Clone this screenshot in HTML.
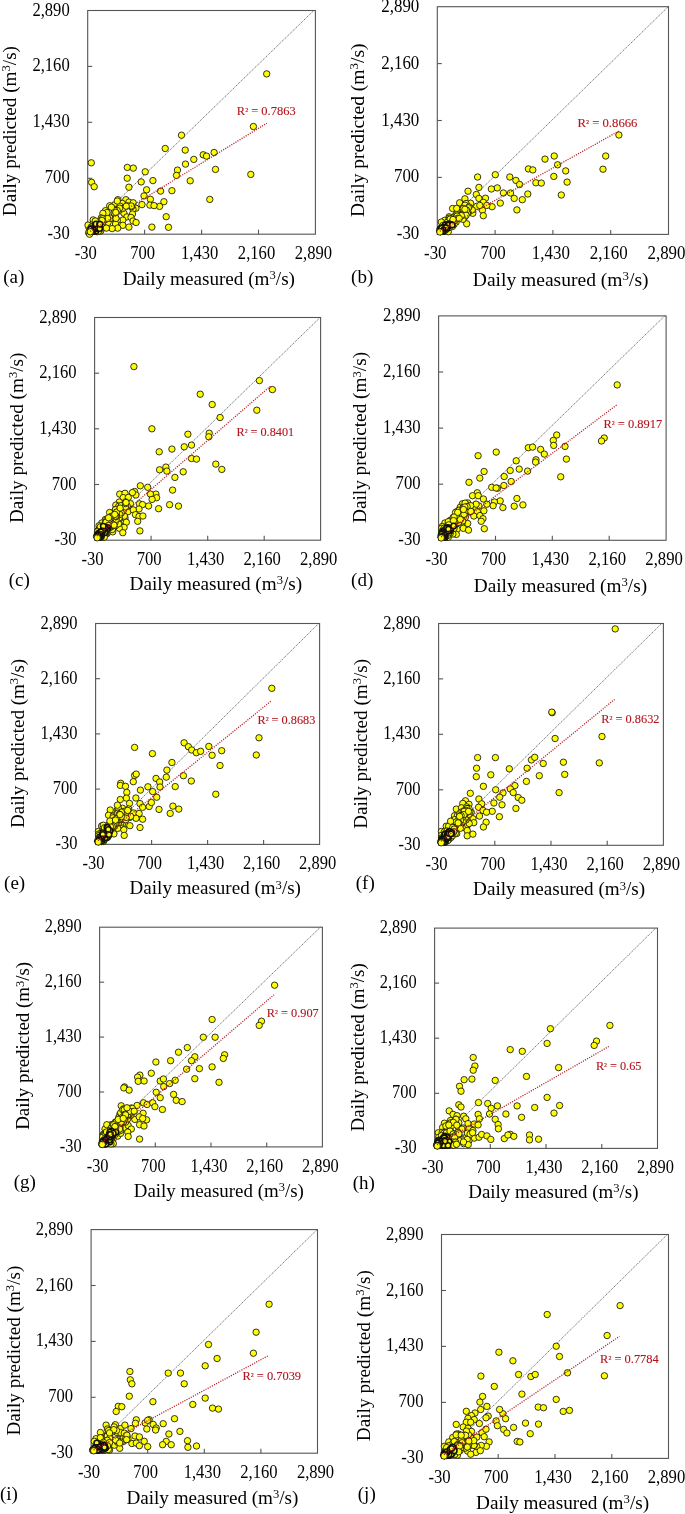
<!DOCTYPE html><html><head><meta charset="utf-8"><style>html,body{margin:0;padding:0;background:#fff;width:685px;height:1514px;overflow:hidden}svg{display:block;will-change:transform}text{font-family:"Liberation Serif",serif;fill:#000}</style></head><body>
<svg width="685" height="1514" viewBox="0 0 685 1514">
<rect x="87.7" y="10.5" width="227.7" height="223.7" fill="none" stroke="#555" stroke-width="1.1"/>
<line x1="144.6" y1="234.2" x2="144.6" y2="229.7" stroke="#555" stroke-width="1.1"/>
<line x1="87.7" y1="178.3" x2="92.2" y2="178.3" stroke="#555" stroke-width="1.1"/>
<line x1="201.6" y1="234.2" x2="201.6" y2="229.7" stroke="#555" stroke-width="1.1"/>
<line x1="87.7" y1="122.3" x2="92.2" y2="122.3" stroke="#555" stroke-width="1.1"/>
<line x1="258.5" y1="234.2" x2="258.5" y2="229.7" stroke="#555" stroke-width="1.1"/>
<line x1="87.7" y1="66.4" x2="92.2" y2="66.4" stroke="#555" stroke-width="1.1"/>
<g fill="#ffff00" stroke="#111" stroke-width="0.85">
<line x1="87.7" y1="229.9" x2="313.8" y2="10.5" stroke="#555" stroke-width="0.85" stroke-dasharray="1.3 0.9" />
<circle cx="266.7" cy="73.9" r="3.2"/>
<circle cx="253.4" cy="126.5" r="3.2"/>
<circle cx="181.5" cy="135.2" r="3.2"/>
<circle cx="165.2" cy="148.5" r="3.2"/>
<circle cx="185.2" cy="150.1" r="3.2"/>
<circle cx="203.2" cy="154.8" r="3.2"/>
<circle cx="206.5" cy="156.1" r="3.2"/>
<circle cx="214.1" cy="152.5" r="3.2"/>
<circle cx="193.8" cy="159.4" r="3.2"/>
<circle cx="185.5" cy="164.1" r="3.2"/>
<circle cx="177.5" cy="170.1" r="3.2"/>
<circle cx="176.5" cy="175.4" r="3.2"/>
<circle cx="215.5" cy="169.4" r="3.2"/>
<circle cx="250.8" cy="174.4" r="3.2"/>
<circle cx="190.2" cy="180.8" r="3.2"/>
<circle cx="209.8" cy="199.4" r="3.2"/>
<circle cx="91.3" cy="162.8" r="3.2"/>
<circle cx="127.3" cy="167.4" r="3.2"/>
<circle cx="133.3" cy="168.1" r="3.2"/>
<circle cx="145.2" cy="171.8" r="3.2"/>
<circle cx="160.6" cy="191.1" r="3.2"/>
<circle cx="171.9" cy="190.7" r="3.2"/>
<circle cx="163.9" cy="201.7" r="3.2"/>
<circle cx="159.6" cy="206.4" r="3.2"/>
<circle cx="166.2" cy="216.7" r="3.2"/>
<circle cx="168.5" cy="227.3" r="3.2"/>
<circle cx="91.6" cy="182.3" r="3.2"/>
<circle cx="94.2" cy="186.7" r="3.2"/>
<circle cx="127.2" cy="178.2" r="3.2"/>
<circle cx="141.2" cy="181.9" r="3.2"/>
<circle cx="152.9" cy="180.6" r="3.2"/>
<circle cx="128.9" cy="187.2" r="3.2"/>
<circle cx="146.6" cy="189.8" r="3.2"/>
<circle cx="144.0" cy="195.9" r="3.2"/>
<circle cx="150.4" cy="199.3" r="3.2"/>
<circle cx="142.0" cy="204.6" r="3.2"/>
<circle cx="149.9" cy="205.1" r="3.2"/>
<circle cx="154.0" cy="205.6" r="3.2"/>
<circle cx="151.9" cy="227.1" r="3.2"/>
<circle cx="117.9" cy="199.7" r="3.2"/>
<circle cx="125.9" cy="199.7" r="3.2"/>
<circle cx="128.9" cy="202.1" r="3.2"/>
<circle cx="133.2" cy="202.8" r="3.2"/>
<circle cx="122.3" cy="203.4" r="3.2"/>
<circle cx="114.6" cy="204.8" r="3.2"/>
<circle cx="109.7" cy="205.8" r="3.2"/>
<circle cx="119.9" cy="206.1" r="3.2"/>
<circle cx="135.9" cy="208.2" r="3.2"/>
<circle cx="133.0" cy="209.2" r="3.2"/>
<circle cx="114.6" cy="209.2" r="3.2"/>
<circle cx="120.2" cy="210.7" r="3.2"/>
<circle cx="124.0" cy="213.3" r="3.2"/>
<circle cx="132.5" cy="214.0" r="3.2"/>
<circle cx="105.4" cy="210.7" r="3.2"/>
<circle cx="106.9" cy="212.6" r="3.2"/>
<circle cx="102.9" cy="213.3" r="3.2"/>
<circle cx="126.9" cy="216.9" r="3.2"/>
<circle cx="131.0" cy="217.4" r="3.2"/>
<circle cx="133.0" cy="221.0" r="3.2"/>
<circle cx="136.1" cy="222.5" r="3.2"/>
<circle cx="122.8" cy="220.1" r="3.2"/>
<circle cx="117.2" cy="220.5" r="3.2"/>
<circle cx="112.6" cy="218.7" r="3.2"/>
<circle cx="106.4" cy="218.9" r="3.2"/>
<circle cx="101.3" cy="217.9" r="3.2"/>
<circle cx="93.2" cy="219.9" r="3.2"/>
<circle cx="95.7" cy="224.0" r="3.2"/>
<circle cx="99.3" cy="223.0" r="3.2"/>
<circle cx="103.9" cy="223.5" r="3.2"/>
<circle cx="108.0" cy="222.5" r="3.2"/>
<circle cx="115.6" cy="224.0" r="3.2"/>
<circle cx="122.8" cy="225.3" r="3.2"/>
<circle cx="128.9" cy="227.1" r="3.2"/>
<circle cx="117.7" cy="228.1" r="3.2"/>
<circle cx="112.1" cy="228.6" r="3.2"/>
<circle cx="106.4" cy="228.1" r="3.2"/>
<circle cx="99.3" cy="230.2" r="3.2"/>
<circle cx="96.2" cy="228.1" r="3.2"/>
<circle cx="92.1" cy="227.1" r="3.2"/>
<circle cx="91.1" cy="225.1" r="3.2"/>
<circle cx="89.1" cy="228.1" r="3.2"/>
<circle cx="90.1" cy="231.2" r="3.2"/>
<circle cx="88.6" cy="232.7" r="3.2"/>
<circle cx="89.6" cy="234.2" r="3.2"/>
<circle cx="88.0" cy="225.1" r="3.2"/>
<circle cx="97.2" cy="231.7" r="3.2"/>
<circle cx="91.6" cy="231.2" r="3.2"/>
<circle cx="113.3" cy="217.1" r="3.2"/>
<circle cx="95.0" cy="226.9" r="3.2"/>
<circle cx="114.1" cy="212.8" r="3.2"/>
<circle cx="103.1" cy="221.5" r="3.2"/>
<circle cx="127.5" cy="205.8" r="3.2"/>
<circle cx="122.6" cy="208.6" r="3.2"/>
<circle cx="93.3" cy="231.2" r="3.2"/>
<circle cx="95.0" cy="231.2" r="3.2"/>
<circle cx="112.1" cy="218.6" r="3.2"/>
<circle cx="100.7" cy="231.0" r="3.2"/>
<circle cx="131.5" cy="206.7" r="3.2"/>
<circle cx="119.6" cy="208.2" r="3.2"/>
<circle cx="117.2" cy="210.4" r="3.2"/>
<circle cx="110.7" cy="218.2" r="3.2"/>
<circle cx="96.9" cy="228.7" r="3.2"/>
<circle cx="114.7" cy="210.6" r="3.2"/>
<circle cx="131.3" cy="206.0" r="3.2"/>
<circle cx="99.2" cy="230.6" r="3.2"/>
<circle cx="105.9" cy="219.1" r="3.2"/>
<circle cx="97.2" cy="227.5" r="3.2"/>
<circle cx="115.4" cy="217.4" r="3.2"/>
<circle cx="117.3" cy="201.0" r="3.2"/>
<circle cx="90.7" cy="230.9" r="3.2"/>
<circle cx="103.4" cy="219.4" r="3.2"/>
<circle cx="98.5" cy="231.2" r="3.2"/>
<circle cx="92.5" cy="231.2" r="3.2"/>
<circle cx="115.8" cy="212.4" r="3.2"/>
<circle cx="105.1" cy="219.3" r="3.2"/>
<circle cx="96.5" cy="222.3" r="3.2"/>
<circle cx="91.0" cy="231.2" r="3.2"/>
<circle cx="111.4" cy="207.1" r="3.2"/>
<circle cx="116.0" cy="218.4" r="3.2"/>
<circle cx="126.2" cy="206.2" r="3.2"/>
<circle cx="99.4" cy="226.9" r="3.2"/>
<circle cx="94.1" cy="231.2" r="3.2"/>
<circle cx="90.7" cy="230.8" r="3.2"/>
<circle cx="94.8" cy="227.2" r="3.2"/>
<circle cx="90.7" cy="231.0" r="3.2"/>
<circle cx="107.6" cy="218.5" r="3.2"/>
<circle cx="90.7" cy="231.2" r="3.2"/>
<circle cx="93.2" cy="227.9" r="3.2"/>
<circle cx="90.7" cy="231.2" r="3.2"/>
<circle cx="91.5" cy="231.2" r="3.2"/>
<circle cx="95.5" cy="224.6" r="3.2"/>
<circle cx="90.7" cy="230.2" r="3.2"/>
<circle cx="92.4" cy="227.2" r="3.2"/>
<circle cx="90.7" cy="230.6" r="3.2"/>
<circle cx="93.2" cy="231.2" r="3.2"/>
<circle cx="91.3" cy="227.0" r="3.2"/>
<circle cx="96.6" cy="225.9" r="3.2"/>
<circle cx="93.6" cy="226.2" r="3.2"/>
<circle cx="99.1" cy="223.9" r="3.2"/>
<circle cx="91.3" cy="231.2" r="3.2"/>
<circle cx="93.3" cy="229.7" r="3.2"/>
<circle cx="90.7" cy="231.2" r="3.2"/>
<circle cx="95.2" cy="227.3" r="3.2"/>
<circle cx="102.4" cy="218.7" r="3.2"/>
<circle cx="96.2" cy="229.8" r="3.2"/>
<circle cx="102.0" cy="220.4" r="3.2"/>
<circle cx="96.0" cy="229.3" r="3.2"/>
<circle cx="93.0" cy="229.3" r="3.2"/>
<circle cx="98.6" cy="223.9" r="3.2"/>
<circle cx="96.2" cy="225.5" r="3.2"/>
<circle cx="90.7" cy="228.6" r="3.2"/>
<circle cx="90.7" cy="231.2" r="3.2"/>
<circle cx="93.9" cy="229.2" r="3.2"/>
<circle cx="95.3" cy="221.0" r="3.2"/>
<circle cx="92.1" cy="231.2" r="3.2"/>
<circle cx="90.7" cy="231.2" r="3.2"/>
<g stroke-width="1.6">
<circle cx="95.0" cy="231.2" r="2.7"/>
<circle cx="95.9" cy="226.0" r="2.7"/>
<circle cx="90.7" cy="231.2" r="2.7"/>
<circle cx="95.9" cy="231.2" r="2.7"/>
<circle cx="90.7" cy="231.2" r="2.7"/>
<circle cx="94.8" cy="228.6" r="2.7"/>
<circle cx="90.7" cy="230.1" r="2.7"/>
<circle cx="90.7" cy="231.2" r="2.7"/>
<circle cx="90.7" cy="230.4" r="2.7"/>
<circle cx="95.7" cy="227.4" r="2.7"/>
<circle cx="90.7" cy="231.2" r="2.7"/>
<circle cx="96.3" cy="228.4" r="2.7"/>
<circle cx="92.9" cy="229.8" r="2.7"/>
<circle cx="97.0" cy="228.1" r="2.7"/>
<circle cx="90.7" cy="231.2" r="2.7"/>
<circle cx="90.7" cy="231.2" r="2.7"/>
<circle cx="94.0" cy="229.4" r="2.7"/>
<circle cx="90.7" cy="230.1" r="2.7"/>
<circle cx="92.5" cy="229.6" r="2.7"/>
<circle cx="95.5" cy="228.2" r="2.7"/>
<circle cx="90.7" cy="231.2" r="2.7"/>
<circle cx="97.8" cy="225.5" r="2.7"/>
<circle cx="95.5" cy="225.3" r="2.7"/>
<circle cx="96.9" cy="227.8" r="2.7"/>
<circle cx="96.0" cy="223.9" r="2.7"/>
<circle cx="92.8" cy="229.8" r="2.7"/>
<circle cx="99.6" cy="224.3" r="2.7"/>
<circle cx="90.7" cy="231.2" r="2.7"/>
<circle cx="92.4" cy="231.2" r="2.7"/>
<circle cx="99.7" cy="228.6" r="2.7"/>
<circle cx="90.7" cy="231.2" r="2.7"/>
<circle cx="100.0" cy="224.2" r="2.7"/>
<circle cx="90.7" cy="229.9" r="2.7"/>
<circle cx="90.7" cy="230.5" r="2.7"/>
<circle cx="90.7" cy="229.1" r="2.7"/>
</g>
<ellipse cx="92.7" cy="230.0" rx="4.6" ry="3.0" transform="rotate(-40 92.7 230.0)" fill="#111" stroke="none"/>
<circle cx="90.3" cy="231.8" r="3.2"/>
</g>
<line x1="90.2" y1="231.5" x2="266.8" y2="123.2" stroke="#b81c24" stroke-width="1.3" stroke-dasharray="1.1 1.3"/>
<text transform="translate(69.7,239.2) scale(1,1.1)" font-size="16.60" text-anchor="end">-30</text>
<text transform="translate(85.7,259.2) scale(1,1.1)" font-size="16.60" text-anchor="middle">-30</text>
<text transform="translate(69.7,183.3) scale(1,1.1)" font-size="16.60" text-anchor="end">700</text>
<text transform="translate(142.6,259.2) scale(1,1.1)" font-size="16.60" text-anchor="middle">700</text>
<text transform="translate(69.7,127.3) scale(1,1.1)" font-size="16.60" text-anchor="end">1,430</text>
<text transform="translate(199.6,259.2) scale(1,1.1)" font-size="16.60" text-anchor="middle">1,430</text>
<text transform="translate(69.7,71.4) scale(1,1.1)" font-size="16.60" text-anchor="end">2,160</text>
<text transform="translate(256.5,259.2) scale(1,1.1)" font-size="16.60" text-anchor="middle">2,160</text>
<text transform="translate(69.7,15.5) scale(1,1.1)" font-size="16.60" text-anchor="end">2,890</text>
<text transform="translate(313.4,259.2) scale(1,1.1)" font-size="16.60" text-anchor="middle">2,890</text>
<text x="122.7" y="284.6" font-size="19.17">Daily measured (m<tspan font-size="12.66" dy="-5.75">3</tspan><tspan dy="5.75">/s)</tspan></text>
<text transform="translate(15.9,216.2) rotate(-90)" font-size="19.17">Daily predicted (m<tspan font-size="12.66" dy="-5.75">3</tspan><tspan dy="5.75">/s)</tspan></text>
<text x="3.2" y="282.8" font-size="19">(a)</text>
<text transform="translate(236.8,114.9) scale(0.932,1)" font-size="13.4" style="fill:#b3141c;stroke:#b3141c;stroke-width:0.12">R<tspan font-size="10.5">²</tspan> = 0.7863</text>
<rect x="437.3" y="6.7" width="231.2" height="227.7" fill="none" stroke="#555" stroke-width="1.1"/>
<line x1="495.1" y1="234.4" x2="495.1" y2="229.9" stroke="#555" stroke-width="1.1"/>
<line x1="437.3" y1="177.4" x2="441.8" y2="177.4" stroke="#555" stroke-width="1.1"/>
<line x1="552.9" y1="234.4" x2="552.9" y2="229.9" stroke="#555" stroke-width="1.1"/>
<line x1="437.3" y1="120.5" x2="441.8" y2="120.5" stroke="#555" stroke-width="1.1"/>
<line x1="610.7" y1="234.4" x2="610.7" y2="229.9" stroke="#555" stroke-width="1.1"/>
<line x1="437.3" y1="63.6" x2="441.8" y2="63.6" stroke="#555" stroke-width="1.1"/>
<g fill="#ffff00" stroke="#111" stroke-width="0.85">
<line x1="437.3" y1="232.0" x2="668.2" y2="6.7" stroke="#555" stroke-width="0.85" stroke-dasharray="1.3 0.9" />
<circle cx="618.9" cy="135.0" r="3.2"/>
<circle cx="605.7" cy="156.0" r="3.2"/>
<circle cx="603.0" cy="169.2" r="3.2"/>
<circle cx="554.2" cy="156.0" r="3.2"/>
<circle cx="545.0" cy="159.1" r="3.2"/>
<circle cx="557.6" cy="164.8" r="3.2"/>
<circle cx="528.4" cy="168.9" r="3.2"/>
<circle cx="532.8" cy="169.9" r="3.2"/>
<circle cx="565.7" cy="170.9" r="3.2"/>
<circle cx="553.8" cy="176.4" r="3.2"/>
<circle cx="567.1" cy="182.1" r="3.2"/>
<circle cx="561.3" cy="195.0" r="3.2"/>
<circle cx="535.9" cy="182.8" r="3.2"/>
<circle cx="541.3" cy="183.1" r="3.2"/>
<circle cx="509.8" cy="177.0" r="3.2"/>
<circle cx="515.9" cy="180.4" r="3.2"/>
<circle cx="519.6" cy="184.5" r="3.2"/>
<circle cx="495.3" cy="174.7" r="3.2"/>
<circle cx="477.6" cy="177.0" r="3.2"/>
<circle cx="497.3" cy="187.9" r="3.2"/>
<circle cx="503.4" cy="193.0" r="3.2"/>
<circle cx="510.5" cy="193.0" r="3.2"/>
<circle cx="514.2" cy="198.4" r="3.2"/>
<circle cx="522.3" cy="199.7" r="3.2"/>
<circle cx="527.8" cy="194.0" r="3.2"/>
<circle cx="516.9" cy="209.9" r="3.2"/>
<circle cx="500.3" cy="203.1" r="3.2"/>
<circle cx="478.9" cy="187.4" r="3.2"/>
<circle cx="468.0" cy="191.2" r="3.2"/>
<circle cx="491.4" cy="189.0" r="3.2"/>
<circle cx="476.3" cy="194.5" r="3.2"/>
<circle cx="478.9" cy="198.4" r="3.2"/>
<circle cx="485.5" cy="198.2" r="3.2"/>
<circle cx="464.9" cy="198.8" r="3.2"/>
<circle cx="459.6" cy="202.8" r="3.2"/>
<circle cx="470.6" cy="203.2" r="3.2"/>
<circle cx="483.3" cy="202.3" r="3.2"/>
<circle cx="452.6" cy="208.5" r="3.2"/>
<circle cx="492.1" cy="206.7" r="3.2"/>
<circle cx="482.4" cy="210.2" r="3.2"/>
<circle cx="483.3" cy="215.7" r="3.2"/>
<circle cx="466.7" cy="223.8" r="3.2"/>
<circle cx="462.3" cy="215.0" r="3.2"/>
<circle cx="457.0" cy="215.0" r="3.2"/>
<circle cx="466.7" cy="211.5" r="3.2"/>
<circle cx="472.8" cy="213.3" r="3.2"/>
<circle cx="462.3" cy="208.9" r="3.2"/>
<circle cx="476.7" cy="206.3" r="3.2"/>
<circle cx="479.8" cy="205.4" r="3.2"/>
<circle cx="486.8" cy="205.4" r="3.2"/>
<circle cx="467.5" cy="206.3" r="3.2"/>
<circle cx="449.1" cy="216.8" r="3.2"/>
<circle cx="455.3" cy="219.4" r="3.2"/>
<circle cx="450.9" cy="221.2" r="3.2"/>
<circle cx="444.8" cy="220.3" r="3.2"/>
<circle cx="441.3" cy="222.0" r="3.2"/>
<circle cx="447.4" cy="224.7" r="3.2"/>
<circle cx="452.6" cy="224.7" r="3.2"/>
<circle cx="442.1" cy="227.3" r="3.2"/>
<circle cx="448.3" cy="231.7" r="3.2"/>
<circle cx="456.1" cy="222.0" r="3.2"/>
<circle cx="460.5" cy="218.5" r="3.2"/>
<circle cx="442.2" cy="228.8" r="3.2"/>
<circle cx="464.0" cy="216.6" r="3.2"/>
<circle cx="461.9" cy="214.1" r="3.2"/>
<circle cx="456.3" cy="214.6" r="3.2"/>
<circle cx="448.7" cy="227.4" r="3.2"/>
<circle cx="454.1" cy="224.4" r="3.2"/>
<circle cx="440.3" cy="231.4" r="3.2"/>
<circle cx="465.0" cy="216.7" r="3.2"/>
<circle cx="448.9" cy="219.7" r="3.2"/>
<circle cx="462.9" cy="219.3" r="3.2"/>
<circle cx="451.4" cy="221.4" r="3.2"/>
<circle cx="472.2" cy="209.9" r="3.2"/>
<circle cx="465.3" cy="209.5" r="3.2"/>
<circle cx="445.2" cy="229.9" r="3.2"/>
<circle cx="440.3" cy="231.4" r="3.2"/>
<circle cx="444.1" cy="229.3" r="3.2"/>
<circle cx="465.2" cy="209.9" r="3.2"/>
<circle cx="445.9" cy="226.5" r="3.2"/>
<circle cx="456.7" cy="208.4" r="3.2"/>
<circle cx="466.0" cy="203.5" r="3.2"/>
<circle cx="465.8" cy="206.8" r="3.2"/>
<circle cx="455.1" cy="215.9" r="3.2"/>
<circle cx="464.3" cy="212.2" r="3.2"/>
<circle cx="452.4" cy="226.5" r="3.2"/>
<circle cx="449.4" cy="218.2" r="3.2"/>
<circle cx="442.9" cy="225.5" r="3.2"/>
<circle cx="444.0" cy="229.3" r="3.2"/>
<circle cx="446.9" cy="222.6" r="3.2"/>
<circle cx="464.5" cy="206.0" r="3.2"/>
<circle cx="443.8" cy="227.8" r="3.2"/>
<circle cx="452.4" cy="220.8" r="3.2"/>
<circle cx="440.3" cy="231.4" r="3.2"/>
<circle cx="440.3" cy="229.2" r="3.2"/>
<circle cx="456.8" cy="214.8" r="3.2"/>
<circle cx="468.2" cy="212.9" r="3.2"/>
<circle cx="450.2" cy="219.1" r="3.2"/>
<circle cx="465.1" cy="205.2" r="3.2"/>
<circle cx="440.3" cy="231.4" r="3.2"/>
<circle cx="452.3" cy="221.5" r="3.2"/>
<circle cx="445.5" cy="230.0" r="3.2"/>
<circle cx="450.2" cy="224.6" r="3.2"/>
<circle cx="444.4" cy="229.0" r="3.2"/>
<circle cx="440.3" cy="231.1" r="3.2"/>
<circle cx="450.3" cy="223.2" r="3.2"/>
<circle cx="462.0" cy="215.0" r="3.2"/>
<circle cx="469.0" cy="206.9" r="3.2"/>
<circle cx="463.3" cy="208.5" r="3.2"/>
<circle cx="443.2" cy="230.6" r="3.2"/>
<circle cx="468.3" cy="207.9" r="3.2"/>
<circle cx="443.3" cy="230.6" r="3.2"/>
<circle cx="440.3" cy="231.4" r="3.2"/>
<circle cx="440.3" cy="231.1" r="3.2"/>
<circle cx="442.7" cy="228.1" r="3.2"/>
<circle cx="440.3" cy="230.7" r="3.2"/>
<circle cx="440.3" cy="231.4" r="3.2"/>
<circle cx="455.9" cy="218.2" r="3.2"/>
<circle cx="455.5" cy="219.2" r="3.2"/>
<circle cx="440.3" cy="231.4" r="3.2"/>
<circle cx="467.4" cy="213.1" r="3.2"/>
<circle cx="466.6" cy="210.1" r="3.2"/>
<circle cx="440.3" cy="229.1" r="3.2"/>
<circle cx="440.3" cy="228.6" r="3.2"/>
<circle cx="466.1" cy="215.2" r="3.2"/>
<circle cx="440.3" cy="231.4" r="3.2"/>
<circle cx="461.4" cy="215.6" r="3.2"/>
<circle cx="447.0" cy="227.1" r="3.2"/>
<circle cx="440.8" cy="231.4" r="3.2"/>
<circle cx="454.4" cy="220.7" r="3.2"/>
<circle cx="441.6" cy="231.4" r="3.2"/>
<circle cx="444.0" cy="231.4" r="3.2"/>
<circle cx="457.1" cy="216.1" r="3.2"/>
<circle cx="440.3" cy="231.4" r="3.2"/>
<circle cx="446.7" cy="225.7" r="3.2"/>
<circle cx="457.8" cy="218.2" r="3.2"/>
<circle cx="459.3" cy="218.5" r="3.2"/>
<circle cx="440.5" cy="230.8" r="3.2"/>
<circle cx="449.3" cy="227.6" r="3.2"/>
<circle cx="464.9" cy="209.3" r="3.2"/>
<circle cx="453.0" cy="219.5" r="3.2"/>
<circle cx="445.0" cy="230.4" r="3.2"/>
<g stroke-width="1.6">
<circle cx="440.3" cy="231.4" r="2.7"/>
<circle cx="440.5" cy="229.1" r="2.7"/>
<circle cx="442.4" cy="228.2" r="2.7"/>
<circle cx="447.0" cy="224.8" r="2.7"/>
<circle cx="441.7" cy="229.1" r="2.7"/>
<circle cx="440.3" cy="231.0" r="2.7"/>
<circle cx="440.7" cy="231.4" r="2.7"/>
<circle cx="440.3" cy="229.9" r="2.7"/>
<circle cx="440.3" cy="231.4" r="2.7"/>
<circle cx="442.9" cy="229.1" r="2.7"/>
<circle cx="446.5" cy="224.4" r="2.7"/>
<circle cx="442.2" cy="231.4" r="2.7"/>
<circle cx="445.5" cy="227.3" r="2.7"/>
<circle cx="440.3" cy="231.4" r="2.7"/>
<circle cx="442.0" cy="230.3" r="2.7"/>
<circle cx="443.7" cy="227.3" r="2.7"/>
<circle cx="442.7" cy="231.4" r="2.7"/>
<circle cx="440.3" cy="229.9" r="2.7"/>
<circle cx="440.3" cy="230.7" r="2.7"/>
<circle cx="440.9" cy="228.6" r="2.7"/>
<circle cx="444.4" cy="229.4" r="2.7"/>
<circle cx="445.2" cy="225.0" r="2.7"/>
<circle cx="451.4" cy="224.7" r="2.7"/>
<circle cx="443.6" cy="229.7" r="2.7"/>
<circle cx="440.3" cy="230.4" r="2.7"/>
<circle cx="441.5" cy="229.4" r="2.7"/>
<circle cx="449.8" cy="224.2" r="2.7"/>
<circle cx="448.0" cy="226.8" r="2.7"/>
<circle cx="447.7" cy="225.2" r="2.7"/>
<circle cx="441.8" cy="231.4" r="2.7"/>
<circle cx="448.5" cy="225.1" r="2.7"/>
<circle cx="447.0" cy="228.2" r="2.7"/>
<circle cx="440.4" cy="231.4" r="2.7"/>
<circle cx="442.3" cy="231.4" r="2.7"/>
<circle cx="443.2" cy="227.6" r="2.7"/>
<circle cx="452.3" cy="224.9" r="2.7"/>
<circle cx="441.6" cy="228.1" r="2.7"/>
<circle cx="442.2" cy="231.4" r="2.7"/>
<circle cx="443.4" cy="230.5" r="2.7"/>
<circle cx="445.8" cy="227.6" r="2.7"/>
</g>
<ellipse cx="442.3" cy="230.2" rx="4.6" ry="3.0" transform="rotate(-40 442.3 230.2)" fill="#111" stroke="none"/>
<circle cx="439.9" cy="232.0" r="3.2"/>
</g>
<line x1="439.8" y1="231.3" x2="619.0" y2="131.0" stroke="#b81c24" stroke-width="1.3" stroke-dasharray="1.1 1.3"/>
<text transform="translate(419.3,239.4) scale(1,1.1)" font-size="16.93" text-anchor="end">-30</text>
<text transform="translate(435.3,259.4) scale(1,1.1)" font-size="16.93" text-anchor="middle">-30</text>
<text transform="translate(419.3,182.4) scale(1,1.1)" font-size="16.93" text-anchor="end">700</text>
<text transform="translate(493.1,259.4) scale(1,1.1)" font-size="16.93" text-anchor="middle">700</text>
<text transform="translate(419.3,125.5) scale(1,1.1)" font-size="16.93" text-anchor="end">1,430</text>
<text transform="translate(550.9,259.4) scale(1,1.1)" font-size="16.93" text-anchor="middle">1,430</text>
<text transform="translate(419.3,68.6) scale(1,1.1)" font-size="16.93" text-anchor="end">2,160</text>
<text transform="translate(608.7,259.4) scale(1,1.1)" font-size="16.93" text-anchor="middle">2,160</text>
<text transform="translate(419.3,11.7) scale(1,1.1)" font-size="16.93" text-anchor="end">2,890</text>
<text transform="translate(666.5,259.4) scale(1,1.1)" font-size="16.93" text-anchor="middle">2,890</text>
<text x="472.8" y="286.1" font-size="19.55">Daily measured (m<tspan font-size="12.90" dy="-5.87">3</tspan><tspan dy="5.87">/s)</tspan></text>
<text transform="translate(364.0,217.0) rotate(-90)" font-size="19.55">Daily predicted (m<tspan font-size="12.90" dy="-5.87">3</tspan><tspan dy="5.87">/s)</tspan></text>
<text x="351.1" y="282.6" font-size="19">(b)</text>
<text transform="translate(577.5,126.6) scale(0.95,1)" font-size="13.4" style="fill:#b3141c;stroke:#b3141c;stroke-width:0.12">R<tspan font-size="10.5">²</tspan> = 0.8666</text>
<rect x="94.6" y="317.5" width="226.0" height="222.7" fill="none" stroke="#555" stroke-width="1.1"/>
<line x1="151.1" y1="540.2" x2="151.1" y2="535.7" stroke="#555" stroke-width="1.1"/>
<line x1="94.6" y1="484.5" x2="99.1" y2="484.5" stroke="#555" stroke-width="1.1"/>
<line x1="207.7" y1="540.2" x2="207.7" y2="535.7" stroke="#555" stroke-width="1.1"/>
<line x1="94.6" y1="428.8" x2="99.1" y2="428.8" stroke="#555" stroke-width="1.1"/>
<line x1="264.2" y1="540.2" x2="264.2" y2="535.7" stroke="#555" stroke-width="1.1"/>
<line x1="94.6" y1="373.2" x2="99.1" y2="373.2" stroke="#555" stroke-width="1.1"/>
<g fill="#ffff00" stroke="#111" stroke-width="0.85">
<line x1="94.6" y1="537.1" x2="320.1" y2="317.5" stroke="#555" stroke-width="0.85" stroke-dasharray="1.3 0.9" />
<circle cx="133.9" cy="366.6" r="3.2"/>
<circle cx="259.4" cy="380.6" r="3.2"/>
<circle cx="272.4" cy="389.6" r="3.2"/>
<circle cx="200.2" cy="394.2" r="3.2"/>
<circle cx="212.2" cy="404.5" r="3.2"/>
<circle cx="256.8" cy="410.2" r="3.2"/>
<circle cx="220.1" cy="417.5" r="3.2"/>
<circle cx="151.9" cy="428.8" r="3.2"/>
<circle cx="187.9" cy="434.2" r="3.2"/>
<circle cx="209.2" cy="433.2" r="3.2"/>
<circle cx="208.8" cy="436.8" r="3.2"/>
<circle cx="184.2" cy="446.8" r="3.2"/>
<circle cx="191.5" cy="445.1" r="3.2"/>
<circle cx="171.9" cy="449.1" r="3.2"/>
<circle cx="159.2" cy="451.8" r="3.2"/>
<circle cx="191.5" cy="458.5" r="3.2"/>
<circle cx="196.5" cy="459.1" r="3.2"/>
<circle cx="215.8" cy="464.1" r="3.2"/>
<circle cx="221.8" cy="469.4" r="3.2"/>
<circle cx="165.9" cy="467.1" r="3.2"/>
<circle cx="166.9" cy="471.1" r="3.2"/>
<circle cx="159.6" cy="469.8" r="3.2"/>
<circle cx="183.2" cy="471.8" r="3.2"/>
<circle cx="174.9" cy="477.4" r="3.2"/>
<circle cx="172.6" cy="490.1" r="3.2"/>
<circle cx="155.9" cy="494.1" r="3.2"/>
<circle cx="156.6" cy="497.7" r="3.2"/>
<circle cx="169.6" cy="504.7" r="3.2"/>
<circle cx="178.5" cy="506.1" r="3.2"/>
<circle cx="158.6" cy="508.7" r="3.2"/>
<circle cx="140.3" cy="485.8" r="3.2"/>
<circle cx="147.7" cy="487.3" r="3.2"/>
<circle cx="134.6" cy="491.5" r="3.2"/>
<circle cx="135.9" cy="495.0" r="3.2"/>
<circle cx="119.7" cy="494.1" r="3.2"/>
<circle cx="125.0" cy="493.3" r="3.2"/>
<circle cx="123.2" cy="497.6" r="3.2"/>
<circle cx="150.4" cy="494.1" r="3.2"/>
<circle cx="152.1" cy="499.4" r="3.2"/>
<circle cx="139.4" cy="503.8" r="3.2"/>
<circle cx="142.5" cy="504.6" r="3.2"/>
<circle cx="148.6" cy="506.0" r="3.2"/>
<circle cx="139.0" cy="509.0" r="3.2"/>
<circle cx="119.3" cy="502.0" r="3.2"/>
<circle cx="115.8" cy="505.1" r="3.2"/>
<circle cx="126.7" cy="504.6" r="3.2"/>
<circle cx="129.8" cy="505.5" r="3.2"/>
<circle cx="115.3" cy="509.9" r="3.2"/>
<circle cx="121.9" cy="510.3" r="3.2"/>
<circle cx="128.0" cy="511.7" r="3.2"/>
<circle cx="133.3" cy="509.9" r="3.2"/>
<circle cx="109.6" cy="512.5" r="3.2"/>
<circle cx="111.0" cy="516.5" r="3.2"/>
<circle cx="121.0" cy="515.2" r="3.2"/>
<circle cx="125.0" cy="517.8" r="3.2"/>
<circle cx="135.5" cy="514.7" r="3.2"/>
<circle cx="139.0" cy="516.5" r="3.2"/>
<circle cx="142.9" cy="516.0" r="3.2"/>
<circle cx="137.7" cy="521.3" r="3.2"/>
<circle cx="105.3" cy="519.5" r="3.2"/>
<circle cx="108.3" cy="522.2" r="3.2"/>
<circle cx="114.0" cy="520.4" r="3.2"/>
<circle cx="119.3" cy="523.9" r="3.2"/>
<circle cx="126.3" cy="522.2" r="3.2"/>
<circle cx="124.1" cy="527.4" r="3.2"/>
<circle cx="119.3" cy="528.3" r="3.2"/>
<circle cx="112.7" cy="531.8" r="3.2"/>
<circle cx="122.8" cy="532.7" r="3.2"/>
<circle cx="101.8" cy="523.0" r="3.2"/>
<circle cx="99.1" cy="525.7" r="3.2"/>
<circle cx="104.4" cy="527.4" r="3.2"/>
<circle cx="98.3" cy="530.1" r="3.2"/>
<circle cx="103.5" cy="531.8" r="3.2"/>
<circle cx="96.5" cy="536.2" r="3.2"/>
<circle cx="107.0" cy="533.6" r="3.2"/>
<circle cx="139.9" cy="530.9" r="3.2"/>
<circle cx="104.1" cy="528.9" r="3.2"/>
<circle cx="132.4" cy="492.6" r="3.2"/>
<circle cx="102.9" cy="532.2" r="3.2"/>
<circle cx="105.2" cy="534.3" r="3.2"/>
<circle cx="107.7" cy="523.0" r="3.2"/>
<circle cx="106.6" cy="530.7" r="3.2"/>
<circle cx="97.6" cy="536.6" r="3.2"/>
<circle cx="101.8" cy="532.9" r="3.2"/>
<circle cx="130.5" cy="503.7" r="3.2"/>
<circle cx="103.5" cy="533.5" r="3.2"/>
<circle cx="115.8" cy="513.0" r="3.2"/>
<circle cx="97.6" cy="537.2" r="3.2"/>
<circle cx="97.6" cy="537.2" r="3.2"/>
<circle cx="103.4" cy="526.0" r="3.2"/>
<circle cx="122.1" cy="509.7" r="3.2"/>
<circle cx="104.6" cy="533.8" r="3.2"/>
<circle cx="108.7" cy="524.8" r="3.2"/>
<circle cx="115.9" cy="509.7" r="3.2"/>
<circle cx="117.6" cy="514.0" r="3.2"/>
<circle cx="97.6" cy="534.5" r="3.2"/>
<circle cx="107.6" cy="522.4" r="3.2"/>
<circle cx="108.0" cy="525.8" r="3.2"/>
<circle cx="108.5" cy="523.0" r="3.2"/>
<circle cx="114.5" cy="522.8" r="3.2"/>
<circle cx="97.6" cy="532.0" r="3.2"/>
<circle cx="101.5" cy="529.0" r="3.2"/>
<circle cx="111.9" cy="520.6" r="3.2"/>
<circle cx="124.0" cy="505.3" r="3.2"/>
<circle cx="110.6" cy="516.9" r="3.2"/>
<circle cx="106.5" cy="530.6" r="3.2"/>
<circle cx="97.6" cy="537.2" r="3.2"/>
<circle cx="120.5" cy="512.7" r="3.2"/>
<circle cx="110.0" cy="523.4" r="3.2"/>
<circle cx="106.3" cy="532.7" r="3.2"/>
<circle cx="112.8" cy="522.1" r="3.2"/>
<circle cx="108.9" cy="527.0" r="3.2"/>
<circle cx="97.6" cy="537.2" r="3.2"/>
<circle cx="115.9" cy="524.4" r="3.2"/>
<circle cx="97.6" cy="537.2" r="3.2"/>
<circle cx="118.5" cy="514.7" r="3.2"/>
<circle cx="119.5" cy="509.1" r="3.2"/>
<circle cx="121.9" cy="508.1" r="3.2"/>
<circle cx="114.0" cy="526.8" r="3.2"/>
<circle cx="103.1" cy="537.2" r="3.2"/>
<circle cx="112.3" cy="529.5" r="3.2"/>
<circle cx="100.0" cy="533.8" r="3.2"/>
<circle cx="97.6" cy="535.7" r="3.2"/>
<circle cx="99.2" cy="531.2" r="3.2"/>
<circle cx="119.4" cy="515.1" r="3.2"/>
<circle cx="101.9" cy="537.2" r="3.2"/>
<circle cx="97.7" cy="537.2" r="3.2"/>
<circle cx="118.4" cy="509.3" r="3.2"/>
<circle cx="105.0" cy="528.7" r="3.2"/>
<circle cx="104.3" cy="531.3" r="3.2"/>
<circle cx="118.8" cy="506.2" r="3.2"/>
<circle cx="109.2" cy="519.2" r="3.2"/>
<circle cx="97.6" cy="537.2" r="3.2"/>
<circle cx="115.5" cy="509.6" r="3.2"/>
<circle cx="100.4" cy="527.9" r="3.2"/>
<circle cx="121.5" cy="512.4" r="3.2"/>
<circle cx="105.6" cy="534.0" r="3.2"/>
<circle cx="115.6" cy="525.6" r="3.2"/>
<circle cx="113.0" cy="517.3" r="3.2"/>
<circle cx="105.1" cy="529.9" r="3.2"/>
<circle cx="128.3" cy="497.4" r="3.2"/>
<circle cx="110.1" cy="519.2" r="3.2"/>
<circle cx="107.0" cy="519.0" r="3.2"/>
<circle cx="123.9" cy="507.6" r="3.2"/>
<circle cx="117.3" cy="517.9" r="3.2"/>
<circle cx="119.6" cy="518.6" r="3.2"/>
<circle cx="111.6" cy="524.3" r="3.2"/>
<circle cx="124.4" cy="516.1" r="3.2"/>
<circle cx="113.6" cy="516.1" r="3.2"/>
<circle cx="114.6" cy="518.9" r="3.2"/>
<circle cx="119.5" cy="512.5" r="3.2"/>
<circle cx="106.8" cy="522.2" r="3.2"/>
<circle cx="121.9" cy="506.8" r="3.2"/>
<circle cx="111.0" cy="527.0" r="3.2"/>
<circle cx="105.5" cy="522.0" r="3.2"/>
<circle cx="97.6" cy="537.2" r="3.2"/>
<circle cx="113.2" cy="521.0" r="3.2"/>
<circle cx="125.5" cy="501.9" r="3.2"/>
<circle cx="97.6" cy="533.1" r="3.2"/>
<circle cx="104.9" cy="528.8" r="3.2"/>
<circle cx="113.3" cy="520.2" r="3.2"/>
<circle cx="102.3" cy="528.6" r="3.2"/>
<circle cx="113.5" cy="518.6" r="3.2"/>
<circle cx="118.5" cy="523.8" r="3.2"/>
<circle cx="127.2" cy="506.0" r="3.2"/>
<circle cx="107.1" cy="525.8" r="3.2"/>
<circle cx="122.6" cy="506.0" r="3.2"/>
<circle cx="104.9" cy="534.2" r="3.2"/>
<circle cx="116.5" cy="516.1" r="3.2"/>
<circle cx="115.0" cy="522.6" r="3.2"/>
<circle cx="121.3" cy="505.6" r="3.2"/>
<circle cx="107.6" cy="523.2" r="3.2"/>
<circle cx="97.6" cy="534.0" r="3.2"/>
<circle cx="120.5" cy="513.4" r="3.2"/>
<circle cx="97.8" cy="537.2" r="3.2"/>
<circle cx="119.2" cy="517.8" r="3.2"/>
<circle cx="123.0" cy="511.1" r="3.2"/>
<circle cx="104.3" cy="537.2" r="3.2"/>
<circle cx="125.4" cy="506.9" r="3.2"/>
<circle cx="106.6" cy="525.1" r="3.2"/>
<circle cx="119.9" cy="512.0" r="3.2"/>
<circle cx="121.2" cy="512.9" r="3.2"/>
<circle cx="99.8" cy="533.5" r="3.2"/>
<circle cx="100.5" cy="537.2" r="3.2"/>
<circle cx="116.9" cy="512.2" r="3.2"/>
<circle cx="102.4" cy="531.5" r="3.2"/>
<circle cx="101.2" cy="537.2" r="3.2"/>
<circle cx="97.6" cy="537.2" r="3.2"/>
<circle cx="97.6" cy="537.2" r="3.2"/>
<circle cx="102.4" cy="532.8" r="3.2"/>
<circle cx="101.8" cy="531.5" r="3.2"/>
<circle cx="97.6" cy="532.7" r="3.2"/>
<circle cx="100.0" cy="531.6" r="3.2"/>
<circle cx="97.6" cy="537.0" r="3.2"/>
<circle cx="98.3" cy="537.2" r="3.2"/>
<circle cx="116.2" cy="519.3" r="3.2"/>
<circle cx="105.4" cy="527.2" r="3.2"/>
<circle cx="97.8" cy="537.2" r="3.2"/>
<circle cx="107.2" cy="524.1" r="3.2"/>
<circle cx="103.7" cy="527.8" r="3.2"/>
<circle cx="113.2" cy="515.7" r="3.2"/>
<circle cx="100.3" cy="526.8" r="3.2"/>
<circle cx="109.4" cy="527.6" r="3.2"/>
<circle cx="97.6" cy="537.2" r="3.2"/>
<circle cx="97.6" cy="537.2" r="3.2"/>
<circle cx="108.9" cy="520.4" r="3.2"/>
<circle cx="116.1" cy="516.5" r="3.2"/>
<circle cx="103.6" cy="525.5" r="3.2"/>
<circle cx="118.6" cy="514.0" r="3.2"/>
<circle cx="112.1" cy="525.3" r="3.2"/>
<circle cx="112.5" cy="524.4" r="3.2"/>
<circle cx="97.6" cy="537.2" r="3.2"/>
<circle cx="97.6" cy="537.2" r="3.2"/>
<circle cx="100.5" cy="537.2" r="3.2"/>
<circle cx="97.6" cy="537.2" r="3.2"/>
<circle cx="119.8" cy="514.5" r="3.2"/>
<circle cx="108.0" cy="525.5" r="3.2"/>
<circle cx="116.6" cy="516.2" r="3.2"/>
<circle cx="104.4" cy="530.2" r="3.2"/>
<circle cx="97.6" cy="537.2" r="3.2"/>
<circle cx="97.6" cy="537.2" r="3.2"/>
<circle cx="100.7" cy="536.4" r="3.2"/>
<circle cx="97.6" cy="531.6" r="3.2"/>
<circle cx="106.0" cy="522.3" r="3.2"/>
<circle cx="114.0" cy="525.1" r="3.2"/>
<circle cx="116.3" cy="515.1" r="3.2"/>
<circle cx="99.5" cy="534.2" r="3.2"/>
<circle cx="108.3" cy="525.5" r="3.2"/>
<circle cx="98.6" cy="537.2" r="3.2"/>
<circle cx="97.6" cy="537.2" r="3.2"/>
<circle cx="97.6" cy="537.2" r="3.2"/>
<circle cx="116.5" cy="512.1" r="3.2"/>
<circle cx="97.6" cy="537.2" r="3.2"/>
<circle cx="101.2" cy="531.8" r="3.2"/>
<circle cx="101.2" cy="531.5" r="3.2"/>
<circle cx="97.6" cy="537.2" r="3.2"/>
<circle cx="115.7" cy="516.1" r="3.2"/>
<circle cx="120.1" cy="508.1" r="3.2"/>
<circle cx="107.4" cy="529.3" r="3.2"/>
<circle cx="125.5" cy="503.6" r="3.2"/>
<circle cx="97.6" cy="537.2" r="3.2"/>
<circle cx="108.6" cy="517.8" r="3.2"/>
<circle cx="100.0" cy="537.2" r="3.2"/>
<circle cx="126.0" cy="502.5" r="3.2"/>
<circle cx="114.8" cy="514.4" r="3.2"/>
<circle cx="103.3" cy="530.2" r="3.2"/>
<g stroke-width="1.6">
<circle cx="99.4" cy="533.8" r="2.7"/>
<circle cx="99.8" cy="537.0" r="2.7"/>
<circle cx="98.7" cy="536.9" r="2.7"/>
<circle cx="107.9" cy="527.7" r="2.7"/>
<circle cx="103.4" cy="532.6" r="2.7"/>
<circle cx="97.6" cy="534.3" r="2.7"/>
<circle cx="98.1" cy="535.3" r="2.7"/>
<circle cx="107.0" cy="529.1" r="2.7"/>
<circle cx="102.0" cy="534.1" r="2.7"/>
<circle cx="98.8" cy="537.2" r="2.7"/>
<circle cx="98.7" cy="536.6" r="2.7"/>
<circle cx="105.9" cy="527.0" r="2.7"/>
<circle cx="103.9" cy="530.0" r="2.7"/>
<circle cx="98.3" cy="537.2" r="2.7"/>
<circle cx="99.1" cy="536.0" r="2.7"/>
<circle cx="98.9" cy="537.2" r="2.7"/>
<circle cx="98.9" cy="537.2" r="2.7"/>
<circle cx="99.8" cy="532.7" r="2.7"/>
<circle cx="105.3" cy="528.6" r="2.7"/>
<circle cx="103.6" cy="530.2" r="2.7"/>
<circle cx="98.8" cy="537.2" r="2.7"/>
<circle cx="97.6" cy="537.2" r="2.7"/>
<circle cx="98.8" cy="533.2" r="2.7"/>
<circle cx="100.8" cy="536.1" r="2.7"/>
<circle cx="99.8" cy="532.4" r="2.7"/>
<circle cx="104.0" cy="530.0" r="2.7"/>
<circle cx="98.1" cy="536.8" r="2.7"/>
<circle cx="97.6" cy="537.1" r="2.7"/>
<circle cx="103.3" cy="526.2" r="2.7"/>
<circle cx="104.7" cy="532.8" r="2.7"/>
<circle cx="97.6" cy="537.2" r="2.7"/>
<circle cx="102.1" cy="532.6" r="2.7"/>
<circle cx="102.5" cy="530.9" r="2.7"/>
<circle cx="100.4" cy="532.4" r="2.7"/>
<circle cx="101.1" cy="532.0" r="2.7"/>
<circle cx="97.6" cy="535.9" r="2.7"/>
<circle cx="98.9" cy="535.1" r="2.7"/>
<circle cx="101.1" cy="534.4" r="2.7"/>
<circle cx="97.6" cy="535.6" r="2.7"/>
<circle cx="97.6" cy="537.2" r="2.7"/>
</g>
<ellipse cx="99.6" cy="536.0" rx="4.6" ry="3.0" transform="rotate(-40 99.6 536.0)" fill="#111" stroke="none"/>
<circle cx="97.2" cy="537.8" r="3.2"/>
</g>
<line x1="97.1" y1="536.1" x2="270.4" y2="386.2" stroke="#b81c24" stroke-width="1.3" stroke-dasharray="1.1 1.3"/>
<text transform="translate(76.6,545.2) scale(1,1.1)" font-size="16.61" text-anchor="end">-30</text>
<text transform="translate(92.6,565.2) scale(1,1.1)" font-size="16.61" text-anchor="middle">-30</text>
<text transform="translate(76.6,489.5) scale(1,1.1)" font-size="16.61" text-anchor="end">700</text>
<text transform="translate(149.1,565.2) scale(1,1.1)" font-size="16.61" text-anchor="middle">700</text>
<text transform="translate(76.6,433.8) scale(1,1.1)" font-size="16.61" text-anchor="end">1,430</text>
<text transform="translate(205.7,565.2) scale(1,1.1)" font-size="16.61" text-anchor="middle">1,430</text>
<text transform="translate(76.6,378.2) scale(1,1.1)" font-size="16.61" text-anchor="end">2,160</text>
<text transform="translate(262.2,565.2) scale(1,1.1)" font-size="16.61" text-anchor="middle">2,160</text>
<text transform="translate(76.6,322.5) scale(1,1.1)" font-size="16.61" text-anchor="end">2,890</text>
<text transform="translate(318.7,565.2) scale(1,1.1)" font-size="16.61" text-anchor="middle">2,890</text>
<text x="129.6" y="590.2" font-size="19.19">Daily measured (m<tspan font-size="12.66" dy="-5.76">3</tspan><tspan dy="5.76">/s)</tspan></text>
<text transform="translate(23.0,523.0) rotate(-90)" font-size="19.19">Daily predicted (m<tspan font-size="12.66" dy="-5.76">3</tspan><tspan dy="5.76">/s)</tspan></text>
<text x="8.7" y="585.8" font-size="19">(c)</text>
<text transform="translate(236.5,436.0) scale(0.912,1)" font-size="13.4" style="fill:#b3141c;stroke:#b3141c;stroke-width:0.12">R<tspan font-size="10.5">²</tspan> = 0.8401</text>
<rect x="438.6" y="315.9" width="227.5" height="224.4" fill="none" stroke="#555" stroke-width="1.1"/>
<line x1="495.5" y1="540.3" x2="495.5" y2="535.8" stroke="#555" stroke-width="1.1"/>
<line x1="438.6" y1="484.2" x2="443.1" y2="484.2" stroke="#555" stroke-width="1.1"/>
<line x1="552.3" y1="540.3" x2="552.3" y2="535.8" stroke="#555" stroke-width="1.1"/>
<line x1="438.6" y1="428.1" x2="443.1" y2="428.1" stroke="#555" stroke-width="1.1"/>
<line x1="609.2" y1="540.3" x2="609.2" y2="535.8" stroke="#555" stroke-width="1.1"/>
<line x1="438.6" y1="372.0" x2="443.1" y2="372.0" stroke="#555" stroke-width="1.1"/>
<g fill="#ffff00" stroke="#111" stroke-width="0.85">
<line x1="438.6" y1="536.1" x2="664.7" y2="315.9" stroke="#555" stroke-width="0.85" stroke-dasharray="1.3 0.9" />
<circle cx="617.2" cy="384.9" r="3.2"/>
<circle cx="604.2" cy="438.0" r="3.2"/>
<circle cx="601.5" cy="441.0" r="3.2"/>
<circle cx="556.7" cy="435.0" r="3.2"/>
<circle cx="553.3" cy="440.4" r="3.2"/>
<circle cx="553.7" cy="445.4" r="3.2"/>
<circle cx="565.0" cy="446.4" r="3.2"/>
<circle cx="566.4" cy="459.1" r="3.2"/>
<circle cx="560.7" cy="476.8" r="3.2"/>
<circle cx="528.3" cy="447.7" r="3.2"/>
<circle cx="532.6" cy="447.1" r="3.2"/>
<circle cx="540.6" cy="449.4" r="3.2"/>
<circle cx="544.3" cy="454.1" r="3.2"/>
<circle cx="536.0" cy="459.8" r="3.2"/>
<circle cx="535.6" cy="462.1" r="3.2"/>
<circle cx="496.2" cy="452.1" r="3.2"/>
<circle cx="478.1" cy="455.7" r="3.2"/>
<circle cx="516.2" cy="460.8" r="3.2"/>
<circle cx="519.2" cy="469.1" r="3.2"/>
<circle cx="510.2" cy="470.5" r="3.2"/>
<circle cx="527.6" cy="471.1" r="3.2"/>
<circle cx="504.2" cy="476.5" r="3.2"/>
<circle cx="511.2" cy="481.5" r="3.2"/>
<circle cx="484.1" cy="471.5" r="3.2"/>
<circle cx="479.8" cy="478.1" r="3.2"/>
<circle cx="497.5" cy="488.2" r="3.2"/>
<circle cx="503.9" cy="485.5" r="3.2"/>
<circle cx="516.9" cy="498.5" r="3.2"/>
<circle cx="522.9" cy="504.9" r="3.2"/>
<circle cx="514.2" cy="506.2" r="3.2"/>
<circle cx="502.9" cy="507.6" r="3.2"/>
<circle cx="500.2" cy="500.9" r="3.2"/>
<circle cx="469.0" cy="482.3" r="3.2"/>
<circle cx="491.7" cy="487.3" r="3.2"/>
<circle cx="496.1" cy="488.0" r="3.2"/>
<circle cx="477.3" cy="492.8" r="3.2"/>
<circle cx="472.5" cy="495.7" r="3.2"/>
<circle cx="478.2" cy="495.7" r="3.2"/>
<circle cx="483.4" cy="499.0" r="3.2"/>
<circle cx="494.4" cy="502.0" r="3.2"/>
<circle cx="493.1" cy="505.7" r="3.2"/>
<circle cx="486.9" cy="504.2" r="3.2"/>
<circle cx="479.0" cy="506.0" r="3.2"/>
<circle cx="483.9" cy="510.8" r="3.2"/>
<circle cx="467.7" cy="502.9" r="3.2"/>
<circle cx="462.4" cy="503.8" r="3.2"/>
<circle cx="460.2" cy="507.3" r="3.2"/>
<circle cx="471.2" cy="507.3" r="3.2"/>
<circle cx="474.7" cy="509.0" r="3.2"/>
<circle cx="456.7" cy="511.7" r="3.2"/>
<circle cx="465.9" cy="511.2" r="3.2"/>
<circle cx="470.3" cy="512.1" r="3.2"/>
<circle cx="477.3" cy="511.7" r="3.2"/>
<circle cx="453.6" cy="517.4" r="3.2"/>
<circle cx="460.6" cy="514.3" r="3.2"/>
<circle cx="465.0" cy="516.9" r="3.2"/>
<circle cx="473.8" cy="516.0" r="3.2"/>
<circle cx="479.9" cy="515.6" r="3.2"/>
<circle cx="483.0" cy="518.7" r="3.2"/>
<circle cx="481.2" cy="521.3" r="3.2"/>
<circle cx="467.7" cy="523.5" r="3.2"/>
<circle cx="462.4" cy="522.2" r="3.2"/>
<circle cx="456.3" cy="522.2" r="3.2"/>
<circle cx="450.1" cy="520.4" r="3.2"/>
<circle cx="444.9" cy="523.0" r="3.2"/>
<circle cx="442.3" cy="526.5" r="3.2"/>
<circle cx="449.3" cy="527.4" r="3.2"/>
<circle cx="457.1" cy="529.2" r="3.2"/>
<circle cx="463.3" cy="528.3" r="3.2"/>
<circle cx="468.5" cy="530.1" r="3.2"/>
<circle cx="446.6" cy="531.8" r="3.2"/>
<circle cx="451.9" cy="532.7" r="3.2"/>
<circle cx="456.3" cy="534.4" r="3.2"/>
<circle cx="440.9" cy="536.2" r="3.2"/>
<circle cx="484.3" cy="528.7" r="3.2"/>
<circle cx="443.7" cy="537.3" r="3.2"/>
<circle cx="448.9" cy="533.3" r="3.2"/>
<circle cx="455.6" cy="516.9" r="3.2"/>
<circle cx="443.3" cy="531.0" r="3.2"/>
<circle cx="454.9" cy="524.3" r="3.2"/>
<circle cx="461.6" cy="514.0" r="3.2"/>
<circle cx="466.3" cy="507.3" r="3.2"/>
<circle cx="441.6" cy="528.3" r="3.2"/>
<circle cx="448.0" cy="524.2" r="3.2"/>
<circle cx="464.3" cy="507.9" r="3.2"/>
<circle cx="446.1" cy="531.7" r="3.2"/>
<circle cx="467.0" cy="508.4" r="3.2"/>
<circle cx="452.9" cy="534.0" r="3.2"/>
<circle cx="441.6" cy="537.3" r="3.2"/>
<circle cx="447.3" cy="532.9" r="3.2"/>
<circle cx="459.2" cy="516.5" r="3.2"/>
<circle cx="464.2" cy="508.7" r="3.2"/>
<circle cx="458.6" cy="519.3" r="3.2"/>
<circle cx="452.9" cy="526.4" r="3.2"/>
<circle cx="466.7" cy="504.9" r="3.2"/>
<circle cx="447.3" cy="528.0" r="3.2"/>
<circle cx="459.0" cy="510.2" r="3.2"/>
<circle cx="441.6" cy="531.6" r="3.2"/>
<circle cx="455.9" cy="521.2" r="3.2"/>
<circle cx="468.9" cy="507.7" r="3.2"/>
<circle cx="466.7" cy="509.0" r="3.2"/>
<circle cx="456.6" cy="522.4" r="3.2"/>
<circle cx="444.3" cy="532.8" r="3.2"/>
<circle cx="442.4" cy="531.7" r="3.2"/>
<circle cx="470.6" cy="510.8" r="3.2"/>
<circle cx="464.8" cy="512.1" r="3.2"/>
<circle cx="466.1" cy="512.5" r="3.2"/>
<circle cx="459.4" cy="518.5" r="3.2"/>
<circle cx="446.3" cy="536.5" r="3.2"/>
<circle cx="463.1" cy="508.4" r="3.2"/>
<circle cx="454.5" cy="525.6" r="3.2"/>
<circle cx="445.7" cy="527.7" r="3.2"/>
<circle cx="441.6" cy="534.8" r="3.2"/>
<circle cx="445.6" cy="537.3" r="3.2"/>
<circle cx="458.4" cy="520.4" r="3.2"/>
<circle cx="454.5" cy="525.3" r="3.2"/>
<circle cx="448.2" cy="535.7" r="3.2"/>
<circle cx="441.6" cy="537.3" r="3.2"/>
<circle cx="459.5" cy="518.3" r="3.2"/>
<circle cx="466.3" cy="509.1" r="3.2"/>
<circle cx="458.4" cy="522.7" r="3.2"/>
<circle cx="444.2" cy="531.6" r="3.2"/>
<circle cx="448.9" cy="522.2" r="3.2"/>
<circle cx="447.6" cy="532.6" r="3.2"/>
<circle cx="442.7" cy="530.7" r="3.2"/>
<circle cx="455.2" cy="517.1" r="3.2"/>
<circle cx="446.7" cy="537.3" r="3.2"/>
<circle cx="456.8" cy="519.0" r="3.2"/>
<circle cx="462.5" cy="518.9" r="3.2"/>
<circle cx="464.3" cy="510.6" r="3.2"/>
<circle cx="450.6" cy="527.2" r="3.2"/>
<circle cx="476.1" cy="504.2" r="3.2"/>
<circle cx="446.6" cy="533.3" r="3.2"/>
<circle cx="441.6" cy="533.0" r="3.2"/>
<circle cx="447.6" cy="531.6" r="3.2"/>
<circle cx="463.1" cy="507.3" r="3.2"/>
<circle cx="453.9" cy="524.4" r="3.2"/>
<circle cx="455.3" cy="519.5" r="3.2"/>
<circle cx="441.6" cy="533.8" r="3.2"/>
<circle cx="450.2" cy="533.5" r="3.2"/>
<circle cx="465.2" cy="517.5" r="3.2"/>
<circle cx="444.7" cy="535.1" r="3.2"/>
<circle cx="444.3" cy="533.1" r="3.2"/>
<circle cx="441.6" cy="537.3" r="3.2"/>
<circle cx="464.5" cy="512.2" r="3.2"/>
<circle cx="462.7" cy="520.9" r="3.2"/>
<circle cx="454.5" cy="523.2" r="3.2"/>
<circle cx="470.0" cy="511.7" r="3.2"/>
<circle cx="446.7" cy="528.5" r="3.2"/>
<circle cx="463.8" cy="507.4" r="3.2"/>
<circle cx="453.2" cy="519.3" r="3.2"/>
<circle cx="444.0" cy="536.5" r="3.2"/>
<circle cx="457.9" cy="522.8" r="3.2"/>
<circle cx="470.7" cy="505.7" r="3.2"/>
<circle cx="454.1" cy="520.7" r="3.2"/>
<circle cx="447.4" cy="526.5" r="3.2"/>
<circle cx="441.6" cy="533.4" r="3.2"/>
<circle cx="455.5" cy="512.5" r="3.2"/>
<circle cx="441.6" cy="534.3" r="3.2"/>
<circle cx="441.6" cy="537.3" r="3.2"/>
<circle cx="456.9" cy="516.9" r="3.2"/>
<circle cx="444.3" cy="533.1" r="3.2"/>
<circle cx="462.9" cy="513.2" r="3.2"/>
<circle cx="463.7" cy="507.5" r="3.2"/>
<circle cx="465.1" cy="503.1" r="3.2"/>
<circle cx="444.7" cy="532.8" r="3.2"/>
<circle cx="462.6" cy="514.5" r="3.2"/>
<circle cx="463.8" cy="514.1" r="3.2"/>
<circle cx="452.3" cy="527.0" r="3.2"/>
<circle cx="449.1" cy="523.9" r="3.2"/>
<circle cx="441.6" cy="537.3" r="3.2"/>
<circle cx="449.7" cy="528.9" r="3.2"/>
<circle cx="452.6" cy="522.1" r="3.2"/>
<circle cx="441.6" cy="537.3" r="3.2"/>
<circle cx="452.8" cy="522.2" r="3.2"/>
<circle cx="442.4" cy="537.3" r="3.2"/>
<circle cx="458.7" cy="522.4" r="3.2"/>
<circle cx="462.5" cy="514.5" r="3.2"/>
<circle cx="449.0" cy="531.3" r="3.2"/>
<circle cx="464.0" cy="514.3" r="3.2"/>
<circle cx="441.6" cy="535.8" r="3.2"/>
<circle cx="442.2" cy="537.3" r="3.2"/>
<circle cx="448.7" cy="529.4" r="3.2"/>
<circle cx="448.8" cy="529.5" r="3.2"/>
<circle cx="443.5" cy="532.8" r="3.2"/>
<circle cx="450.4" cy="530.9" r="3.2"/>
<circle cx="467.0" cy="510.0" r="3.2"/>
<circle cx="450.8" cy="528.4" r="3.2"/>
<circle cx="467.1" cy="506.6" r="3.2"/>
<circle cx="454.8" cy="522.0" r="3.2"/>
<circle cx="452.1" cy="527.3" r="3.2"/>
<circle cx="448.3" cy="521.7" r="3.2"/>
<circle cx="441.6" cy="537.3" r="3.2"/>
<circle cx="446.5" cy="528.5" r="3.2"/>
<circle cx="464.9" cy="507.0" r="3.2"/>
<circle cx="455.4" cy="520.4" r="3.2"/>
<circle cx="441.6" cy="537.3" r="3.2"/>
<circle cx="441.6" cy="537.3" r="3.2"/>
<circle cx="460.4" cy="519.5" r="3.2"/>
<circle cx="453.1" cy="517.7" r="3.2"/>
<circle cx="441.6" cy="534.2" r="3.2"/>
<circle cx="443.9" cy="536.5" r="3.2"/>
<circle cx="445.2" cy="532.4" r="3.2"/>
<circle cx="454.0" cy="528.5" r="3.2"/>
<circle cx="448.3" cy="537.3" r="3.2"/>
<circle cx="447.8" cy="535.4" r="3.2"/>
<circle cx="450.5" cy="526.9" r="3.2"/>
<circle cx="441.6" cy="537.3" r="3.2"/>
<circle cx="463.5" cy="509.5" r="3.2"/>
<circle cx="449.0" cy="529.3" r="3.2"/>
<circle cx="447.8" cy="527.9" r="3.2"/>
<circle cx="444.2" cy="528.1" r="3.2"/>
<circle cx="445.0" cy="533.0" r="3.2"/>
<circle cx="454.1" cy="517.0" r="3.2"/>
<circle cx="447.1" cy="531.3" r="3.2"/>
<circle cx="449.0" cy="532.8" r="3.2"/>
<circle cx="441.6" cy="536.8" r="3.2"/>
<circle cx="441.6" cy="537.3" r="3.2"/>
<circle cx="447.0" cy="529.6" r="3.2"/>
<circle cx="449.0" cy="530.2" r="3.2"/>
<circle cx="470.9" cy="511.4" r="3.2"/>
<circle cx="457.7" cy="512.3" r="3.2"/>
<circle cx="448.4" cy="528.9" r="3.2"/>
<circle cx="448.8" cy="524.8" r="3.2"/>
<circle cx="453.5" cy="520.6" r="3.2"/>
<g stroke-width="1.6">
<circle cx="442.6" cy="537.3" r="2.7"/>
<circle cx="442.8" cy="534.7" r="2.7"/>
<circle cx="448.0" cy="531.2" r="2.7"/>
<circle cx="444.5" cy="533.6" r="2.7"/>
<circle cx="443.8" cy="531.4" r="2.7"/>
<circle cx="445.1" cy="535.4" r="2.7"/>
<circle cx="441.6" cy="537.3" r="2.7"/>
<circle cx="441.6" cy="537.1" r="2.7"/>
<circle cx="443.7" cy="536.4" r="2.7"/>
<circle cx="444.6" cy="534.7" r="2.7"/>
<circle cx="450.9" cy="529.2" r="2.7"/>
<circle cx="445.2" cy="532.1" r="2.7"/>
<circle cx="449.4" cy="531.1" r="2.7"/>
<circle cx="442.8" cy="536.1" r="2.7"/>
<circle cx="444.5" cy="535.0" r="2.7"/>
<circle cx="443.6" cy="530.8" r="2.7"/>
<circle cx="442.5" cy="532.4" r="2.7"/>
<circle cx="447.9" cy="527.4" r="2.7"/>
<circle cx="441.6" cy="537.3" r="2.7"/>
<circle cx="441.6" cy="537.3" r="2.7"/>
<circle cx="444.6" cy="531.1" r="2.7"/>
<circle cx="445.2" cy="537.3" r="2.7"/>
<circle cx="441.6" cy="536.8" r="2.7"/>
<circle cx="448.2" cy="529.7" r="2.7"/>
<circle cx="445.5" cy="529.2" r="2.7"/>
<circle cx="443.5" cy="532.4" r="2.7"/>
<circle cx="442.3" cy="534.2" r="2.7"/>
<circle cx="441.6" cy="537.3" r="2.7"/>
<circle cx="446.6" cy="528.1" r="2.7"/>
<circle cx="443.8" cy="534.3" r="2.7"/>
<circle cx="441.6" cy="537.3" r="2.7"/>
<circle cx="442.0" cy="537.3" r="2.7"/>
<circle cx="441.6" cy="537.3" r="2.7"/>
<circle cx="444.3" cy="536.1" r="2.7"/>
<circle cx="442.8" cy="533.5" r="2.7"/>
<circle cx="441.6" cy="534.2" r="2.7"/>
<circle cx="449.1" cy="530.5" r="2.7"/>
<circle cx="442.7" cy="535.9" r="2.7"/>
<circle cx="453.6" cy="526.0" r="2.7"/>
<circle cx="448.4" cy="529.1" r="2.7"/>
</g>
<ellipse cx="443.6" cy="536.1" rx="4.6" ry="3.0" transform="rotate(-40 443.6 536.1)" fill="#111" stroke="none"/>
<circle cx="441.2" cy="537.9" r="3.2"/>
</g>
<line x1="441.1" y1="536.9" x2="617.2" y2="404.6" stroke="#b81c24" stroke-width="1.3" stroke-dasharray="1.1 1.3"/>
<text transform="translate(420.6,545.3) scale(1,1.1)" font-size="16.69" text-anchor="end">-30</text>
<text transform="translate(436.6,565.3) scale(1,1.1)" font-size="16.69" text-anchor="middle">-30</text>
<text transform="translate(420.6,489.2) scale(1,1.1)" font-size="16.69" text-anchor="end">700</text>
<text transform="translate(493.5,565.3) scale(1,1.1)" font-size="16.69" text-anchor="middle">700</text>
<text transform="translate(420.6,433.1) scale(1,1.1)" font-size="16.69" text-anchor="end">1,430</text>
<text transform="translate(550.3,565.3) scale(1,1.1)" font-size="16.69" text-anchor="middle">1,430</text>
<text transform="translate(420.6,377.0) scale(1,1.1)" font-size="16.69" text-anchor="end">2,160</text>
<text transform="translate(607.2,565.3) scale(1,1.1)" font-size="16.69" text-anchor="middle">2,160</text>
<text transform="translate(420.6,320.9) scale(1,1.1)" font-size="16.69" text-anchor="end">2,890</text>
<text transform="translate(664.1,565.3) scale(1,1.1)" font-size="16.69" text-anchor="middle">2,890</text>
<text x="473.8" y="591.5" font-size="19.28">Daily measured (m<tspan font-size="12.72" dy="-5.78">3</tspan><tspan dy="5.78">/s)</tspan></text>
<text transform="translate(366.4,523.0) rotate(-90)" font-size="19.28">Daily predicted (m<tspan font-size="12.72" dy="-5.78">3</tspan><tspan dy="5.78">/s)</tspan></text>
<text x="351.1" y="585.5" font-size="19">(d)</text>
<text transform="translate(603.5,427.7) scale(0.929,1)" font-size="13.4" style="fill:#b3141c;stroke:#b3141c;stroke-width:0.12">R<tspan font-size="10.5">²</tspan> = 0.8917</text>
<rect x="95.6" y="623.5" width="224.0" height="220.9" fill="none" stroke="#555" stroke-width="1.1"/>
<line x1="151.6" y1="844.4" x2="151.6" y2="839.9" stroke="#555" stroke-width="1.1"/>
<line x1="95.6" y1="789.1" x2="100.1" y2="789.1" stroke="#555" stroke-width="1.1"/>
<line x1="207.6" y1="844.4" x2="207.6" y2="839.9" stroke="#555" stroke-width="1.1"/>
<line x1="95.6" y1="733.9" x2="100.1" y2="733.9" stroke="#555" stroke-width="1.1"/>
<line x1="263.6" y1="844.4" x2="263.6" y2="839.9" stroke="#555" stroke-width="1.1"/>
<line x1="95.6" y1="678.7" x2="100.1" y2="678.7" stroke="#555" stroke-width="1.1"/>
<g fill="#ffff00" stroke="#111" stroke-width="0.85">
<line x1="95.6" y1="843.9" x2="318.7" y2="623.5" stroke="#555" stroke-width="0.85" stroke-dasharray="1.3 0.9" />
<circle cx="271.8" cy="688.3" r="3.2"/>
<circle cx="259.0" cy="737.8" r="3.2"/>
<circle cx="256.3" cy="755.0" r="3.2"/>
<circle cx="184.1" cy="742.8" r="3.2"/>
<circle cx="188.4" cy="746.7" r="3.2"/>
<circle cx="191.7" cy="750.0" r="3.2"/>
<circle cx="196.3" cy="752.7" r="3.2"/>
<circle cx="200.6" cy="751.3" r="3.2"/>
<circle cx="208.8" cy="746.4" r="3.2"/>
<circle cx="212.1" cy="755.3" r="3.2"/>
<circle cx="221.7" cy="750.7" r="3.2"/>
<circle cx="220.0" cy="765.5" r="3.2"/>
<circle cx="215.8" cy="794.2" r="3.2"/>
<circle cx="134.6" cy="747.4" r="3.2"/>
<circle cx="152.4" cy="753.6" r="3.2"/>
<circle cx="171.9" cy="762.5" r="3.2"/>
<circle cx="166.9" cy="770.1" r="3.2"/>
<circle cx="166.3" cy="777.1" r="3.2"/>
<circle cx="156.0" cy="778.4" r="3.2"/>
<circle cx="159.7" cy="782.0" r="3.2"/>
<circle cx="183.4" cy="775.7" r="3.2"/>
<circle cx="175.2" cy="786.6" r="3.2"/>
<circle cx="191.3" cy="781.0" r="3.2"/>
<circle cx="134.6" cy="775.4" r="3.2"/>
<circle cx="136.2" cy="774.1" r="3.2"/>
<circle cx="133.3" cy="781.7" r="3.2"/>
<circle cx="120.7" cy="783.3" r="3.2"/>
<circle cx="160.0" cy="787.0" r="3.2"/>
<circle cx="156.7" cy="797.2" r="3.2"/>
<circle cx="159.0" cy="809.4" r="3.2"/>
<circle cx="172.9" cy="806.1" r="3.2"/>
<circle cx="178.8" cy="809.1" r="3.2"/>
<circle cx="170.2" cy="813.4" r="3.2"/>
<circle cx="120.3" cy="785.4" r="3.2"/>
<circle cx="125.5" cy="786.3" r="3.2"/>
<circle cx="140.4" cy="790.1" r="3.2"/>
<circle cx="147.9" cy="786.8" r="3.2"/>
<circle cx="152.7" cy="791.6" r="3.2"/>
<circle cx="126.8" cy="792.4" r="3.2"/>
<circle cx="120.3" cy="799.5" r="3.2"/>
<circle cx="126.4" cy="798.1" r="3.2"/>
<circle cx="129.5" cy="803.4" r="3.2"/>
<circle cx="135.9" cy="798.0" r="3.2"/>
<circle cx="140.0" cy="803.6" r="3.2"/>
<circle cx="142.6" cy="807.3" r="3.2"/>
<circle cx="149.2" cy="806.5" r="3.2"/>
<circle cx="151.4" cy="802.5" r="3.2"/>
<circle cx="110.2" cy="810.0" r="3.2"/>
<circle cx="117.2" cy="810.0" r="3.2"/>
<circle cx="122.5" cy="808.2" r="3.2"/>
<circle cx="128.2" cy="810.8" r="3.2"/>
<circle cx="133.4" cy="813.0" r="3.2"/>
<circle cx="139.1" cy="813.5" r="3.2"/>
<circle cx="136.0" cy="818.3" r="3.2"/>
<circle cx="142.6" cy="819.2" r="3.2"/>
<circle cx="108.5" cy="815.2" r="3.2"/>
<circle cx="113.3" cy="816.1" r="3.2"/>
<circle cx="119.0" cy="814.3" r="3.2"/>
<circle cx="124.7" cy="815.7" r="3.2"/>
<circle cx="129.9" cy="817.4" r="3.2"/>
<circle cx="111.5" cy="821.8" r="3.2"/>
<circle cx="116.8" cy="820.9" r="3.2"/>
<circle cx="120.3" cy="820.0" r="3.2"/>
<circle cx="124.7" cy="824.0" r="3.2"/>
<circle cx="129.9" cy="825.7" r="3.2"/>
<circle cx="120.3" cy="826.6" r="3.2"/>
<circle cx="114.1" cy="826.2" r="3.2"/>
<circle cx="108.0" cy="826.2" r="3.2"/>
<circle cx="106.3" cy="829.7" r="3.2"/>
<circle cx="101.9" cy="826.2" r="3.2"/>
<circle cx="98.4" cy="831.4" r="3.2"/>
<circle cx="113.7" cy="833.2" r="3.2"/>
<circle cx="123.8" cy="829.7" r="3.2"/>
<circle cx="124.2" cy="835.4" r="3.2"/>
<circle cx="102.8" cy="834.9" r="3.2"/>
<circle cx="107.1" cy="835.8" r="3.2"/>
<circle cx="97.5" cy="841.1" r="3.2"/>
<circle cx="140.0" cy="827.5" r="3.2"/>
<circle cx="122.6" cy="823.6" r="3.2"/>
<circle cx="106.6" cy="831.2" r="3.2"/>
<circle cx="101.7" cy="841.4" r="3.2"/>
<circle cx="100.7" cy="834.5" r="3.2"/>
<circle cx="106.2" cy="834.5" r="3.2"/>
<circle cx="119.5" cy="819.2" r="3.2"/>
<circle cx="118.2" cy="822.1" r="3.2"/>
<circle cx="99.7" cy="835.7" r="3.2"/>
<circle cx="122.6" cy="813.5" r="3.2"/>
<circle cx="98.6" cy="841.3" r="3.2"/>
<circle cx="109.2" cy="834.8" r="3.2"/>
<circle cx="101.5" cy="841.4" r="3.2"/>
<circle cx="128.7" cy="809.0" r="3.2"/>
<circle cx="114.5" cy="820.3" r="3.2"/>
<circle cx="125.5" cy="818.3" r="3.2"/>
<circle cx="120.2" cy="824.9" r="3.2"/>
<circle cx="105.6" cy="837.9" r="3.2"/>
<circle cx="101.8" cy="825.9" r="3.2"/>
<circle cx="107.4" cy="837.3" r="3.2"/>
<circle cx="126.5" cy="817.9" r="3.2"/>
<circle cx="105.4" cy="829.1" r="3.2"/>
<circle cx="118.4" cy="808.2" r="3.2"/>
<circle cx="130.6" cy="816.4" r="3.2"/>
<circle cx="121.1" cy="822.3" r="3.2"/>
<circle cx="104.3" cy="836.3" r="3.2"/>
<circle cx="106.8" cy="832.3" r="3.2"/>
<circle cx="114.9" cy="823.5" r="3.2"/>
<circle cx="113.0" cy="817.8" r="3.2"/>
<circle cx="112.6" cy="828.8" r="3.2"/>
<circle cx="103.4" cy="839.3" r="3.2"/>
<circle cx="100.9" cy="839.7" r="3.2"/>
<circle cx="121.9" cy="812.7" r="3.2"/>
<circle cx="100.0" cy="841.4" r="3.2"/>
<circle cx="107.8" cy="829.9" r="3.2"/>
<circle cx="98.6" cy="841.4" r="3.2"/>
<circle cx="99.1" cy="834.9" r="3.2"/>
<circle cx="110.8" cy="829.2" r="3.2"/>
<circle cx="100.5" cy="835.1" r="3.2"/>
<circle cx="117.6" cy="822.5" r="3.2"/>
<circle cx="117.7" cy="828.4" r="3.2"/>
<circle cx="107.9" cy="825.3" r="3.2"/>
<circle cx="99.6" cy="840.1" r="3.2"/>
<circle cx="98.6" cy="839.0" r="3.2"/>
<circle cx="118.8" cy="819.8" r="3.2"/>
<circle cx="110.0" cy="825.4" r="3.2"/>
<circle cx="98.6" cy="841.4" r="3.2"/>
<circle cx="99.8" cy="841.4" r="3.2"/>
<circle cx="113.8" cy="820.6" r="3.2"/>
<circle cx="111.7" cy="827.3" r="3.2"/>
<circle cx="102.8" cy="837.4" r="3.2"/>
<circle cx="98.6" cy="841.4" r="3.2"/>
<circle cx="98.9" cy="838.5" r="3.2"/>
<circle cx="118.6" cy="822.7" r="3.2"/>
<circle cx="117.0" cy="813.3" r="3.2"/>
<circle cx="98.6" cy="841.4" r="3.2"/>
<circle cx="123.2" cy="819.5" r="3.2"/>
<circle cx="111.3" cy="822.6" r="3.2"/>
<circle cx="124.5" cy="813.3" r="3.2"/>
<circle cx="120.4" cy="819.6" r="3.2"/>
<circle cx="110.8" cy="825.9" r="3.2"/>
<circle cx="105.4" cy="831.6" r="3.2"/>
<circle cx="125.8" cy="819.7" r="3.2"/>
<circle cx="99.7" cy="841.4" r="3.2"/>
<circle cx="116.0" cy="823.4" r="3.2"/>
<circle cx="112.4" cy="823.2" r="3.2"/>
<circle cx="104.1" cy="831.9" r="3.2"/>
<circle cx="122.1" cy="812.0" r="3.2"/>
<circle cx="104.1" cy="833.2" r="3.2"/>
<circle cx="101.8" cy="832.3" r="3.2"/>
<circle cx="114.5" cy="826.4" r="3.2"/>
<circle cx="103.3" cy="836.5" r="3.2"/>
<circle cx="119.7" cy="819.0" r="3.2"/>
<circle cx="104.9" cy="838.5" r="3.2"/>
<circle cx="102.1" cy="841.4" r="3.2"/>
<circle cx="98.6" cy="840.0" r="3.2"/>
<circle cx="107.1" cy="831.3" r="3.2"/>
<circle cx="126.1" cy="817.4" r="3.2"/>
<circle cx="101.7" cy="836.5" r="3.2"/>
<circle cx="99.1" cy="841.4" r="3.2"/>
<circle cx="102.0" cy="834.5" r="3.2"/>
<circle cx="125.7" cy="812.7" r="3.2"/>
<circle cx="104.6" cy="839.2" r="3.2"/>
<circle cx="108.0" cy="836.7" r="3.2"/>
<circle cx="124.8" cy="811.2" r="3.2"/>
<circle cx="103.3" cy="825.2" r="3.2"/>
<circle cx="106.7" cy="830.0" r="3.2"/>
<circle cx="117.4" cy="805.2" r="3.2"/>
<circle cx="119.2" cy="813.2" r="3.2"/>
<circle cx="100.9" cy="840.2" r="3.2"/>
<circle cx="113.8" cy="825.2" r="3.2"/>
<circle cx="98.6" cy="834.1" r="3.2"/>
<circle cx="99.4" cy="835.6" r="3.2"/>
<circle cx="98.6" cy="841.4" r="3.2"/>
<circle cx="115.2" cy="823.6" r="3.2"/>
<circle cx="98.7" cy="839.0" r="3.2"/>
<circle cx="103.6" cy="841.4" r="3.2"/>
<circle cx="107.1" cy="828.0" r="3.2"/>
<circle cx="98.6" cy="841.4" r="3.2"/>
<circle cx="98.6" cy="841.4" r="3.2"/>
<circle cx="98.6" cy="837.6" r="3.2"/>
<circle cx="102.2" cy="831.8" r="3.2"/>
<circle cx="106.5" cy="829.1" r="3.2"/>
<circle cx="127.7" cy="810.4" r="3.2"/>
<circle cx="109.4" cy="828.2" r="3.2"/>
<circle cx="103.1" cy="841.4" r="3.2"/>
<circle cx="102.7" cy="835.6" r="3.2"/>
<circle cx="121.0" cy="813.0" r="3.2"/>
<circle cx="100.6" cy="839.9" r="3.2"/>
<circle cx="121.3" cy="812.2" r="3.2"/>
<circle cx="107.7" cy="828.0" r="3.2"/>
<circle cx="98.6" cy="841.4" r="3.2"/>
<circle cx="113.4" cy="825.5" r="3.2"/>
<circle cx="101.5" cy="841.4" r="3.2"/>
<circle cx="98.6" cy="840.8" r="3.2"/>
<circle cx="98.6" cy="840.4" r="3.2"/>
<circle cx="109.8" cy="831.1" r="3.2"/>
<circle cx="98.6" cy="841.4" r="3.2"/>
<circle cx="112.1" cy="826.8" r="3.2"/>
<circle cx="98.6" cy="841.4" r="3.2"/>
<circle cx="113.9" cy="833.9" r="3.2"/>
<circle cx="98.6" cy="841.4" r="3.2"/>
<circle cx="99.6" cy="840.3" r="3.2"/>
<circle cx="98.6" cy="841.4" r="3.2"/>
<circle cx="104.6" cy="833.1" r="3.2"/>
<circle cx="117.7" cy="813.3" r="3.2"/>
<circle cx="117.2" cy="819.8" r="3.2"/>
<circle cx="119.3" cy="814.3" r="3.2"/>
<circle cx="98.6" cy="835.8" r="3.2"/>
<circle cx="103.0" cy="840.0" r="3.2"/>
<circle cx="105.5" cy="831.6" r="3.2"/>
<circle cx="98.9" cy="841.4" r="3.2"/>
<circle cx="109.8" cy="831.4" r="3.2"/>
<circle cx="105.9" cy="832.8" r="3.2"/>
<circle cx="112.2" cy="826.7" r="3.2"/>
<circle cx="107.3" cy="829.9" r="3.2"/>
<circle cx="100.6" cy="839.5" r="3.2"/>
<circle cx="98.6" cy="841.4" r="3.2"/>
<circle cx="98.6" cy="841.4" r="3.2"/>
<circle cx="107.2" cy="834.0" r="3.2"/>
<circle cx="121.3" cy="816.6" r="3.2"/>
<circle cx="108.3" cy="826.6" r="3.2"/>
<circle cx="102.6" cy="841.4" r="3.2"/>
<circle cx="110.4" cy="826.8" r="3.2"/>
<circle cx="103.6" cy="830.2" r="3.2"/>
<circle cx="100.7" cy="839.6" r="3.2"/>
<circle cx="104.4" cy="827.8" r="3.2"/>
<circle cx="109.9" cy="821.0" r="3.2"/>
<circle cx="116.6" cy="818.7" r="3.2"/>
<circle cx="120.0" cy="814.6" r="3.2"/>
<circle cx="115.5" cy="820.1" r="3.2"/>
<g stroke-width="1.6">
<circle cx="101.9" cy="835.9" r="2.7"/>
<circle cx="104.3" cy="835.3" r="2.7"/>
<circle cx="101.6" cy="838.4" r="2.7"/>
<circle cx="100.3" cy="839.3" r="2.7"/>
<circle cx="104.7" cy="836.5" r="2.7"/>
<circle cx="99.6" cy="836.9" r="2.7"/>
<circle cx="99.4" cy="840.4" r="2.7"/>
<circle cx="98.6" cy="841.4" r="2.7"/>
<circle cx="98.6" cy="841.4" r="2.7"/>
<circle cx="107.4" cy="834.9" r="2.7"/>
<circle cx="108.6" cy="831.4" r="2.7"/>
<circle cx="106.9" cy="837.4" r="2.7"/>
<circle cx="106.9" cy="827.3" r="2.7"/>
<circle cx="104.0" cy="836.6" r="2.7"/>
<circle cx="98.6" cy="841.4" r="2.7"/>
<circle cx="103.8" cy="835.1" r="2.7"/>
<circle cx="105.8" cy="833.5" r="2.7"/>
<circle cx="105.5" cy="833.5" r="2.7"/>
<circle cx="98.9" cy="841.2" r="2.7"/>
<circle cx="98.9" cy="840.5" r="2.7"/>
<circle cx="106.6" cy="833.4" r="2.7"/>
<circle cx="103.3" cy="837.1" r="2.7"/>
<circle cx="102.4" cy="836.2" r="2.7"/>
<circle cx="110.0" cy="830.8" r="2.7"/>
<circle cx="106.0" cy="833.5" r="2.7"/>
<circle cx="103.1" cy="836.9" r="2.7"/>
<circle cx="102.0" cy="840.8" r="2.7"/>
<circle cx="101.2" cy="837.7" r="2.7"/>
<circle cx="105.2" cy="837.8" r="2.7"/>
<circle cx="105.7" cy="834.4" r="2.7"/>
<circle cx="102.8" cy="832.7" r="2.7"/>
<circle cx="107.4" cy="827.4" r="2.7"/>
<circle cx="98.6" cy="841.4" r="2.7"/>
<circle cx="102.8" cy="834.4" r="2.7"/>
<circle cx="98.6" cy="841.1" r="2.7"/>
<circle cx="108.3" cy="829.5" r="2.7"/>
<circle cx="98.6" cy="841.4" r="2.7"/>
<circle cx="102.0" cy="839.1" r="2.7"/>
<circle cx="109.0" cy="834.6" r="2.7"/>
<circle cx="98.6" cy="841.4" r="2.7"/>
</g>
<ellipse cx="100.6" cy="840.2" rx="4.6" ry="3.0" transform="rotate(-40 100.6 840.2)" fill="#111" stroke="none"/>
<circle cx="98.2" cy="842.0" r="3.2"/>
</g>
<line x1="98.1" y1="840.8" x2="271.8" y2="700.5" stroke="#b81c24" stroke-width="1.3" stroke-dasharray="1.1 1.3"/>
<text transform="translate(77.6,849.4) scale(1,1.1)" font-size="16.50" text-anchor="end">-30</text>
<text transform="translate(93.6,869.4) scale(1,1.1)" font-size="16.50" text-anchor="middle">-30</text>
<text transform="translate(77.6,794.1) scale(1,1.1)" font-size="16.50" text-anchor="end">700</text>
<text transform="translate(149.6,869.4) scale(1,1.1)" font-size="16.50" text-anchor="middle">700</text>
<text transform="translate(77.6,738.9) scale(1,1.1)" font-size="16.50" text-anchor="end">1,430</text>
<text transform="translate(205.6,869.4) scale(1,1.1)" font-size="16.50" text-anchor="middle">1,430</text>
<text transform="translate(77.6,683.7) scale(1,1.1)" font-size="16.50" text-anchor="end">2,160</text>
<text transform="translate(261.6,869.4) scale(1,1.1)" font-size="16.50" text-anchor="middle">2,160</text>
<text transform="translate(77.6,628.5) scale(1,1.1)" font-size="16.50" text-anchor="end">2,890</text>
<text transform="translate(317.6,869.4) scale(1,1.1)" font-size="16.50" text-anchor="middle">2,890</text>
<text x="129.6" y="894.3" font-size="19.06">Daily measured (m<tspan font-size="12.58" dy="-5.72">3</tspan><tspan dy="5.72">/s)</tspan></text>
<text transform="translate(24.1,828.0) rotate(-90)" font-size="19.06">Daily predicted (m<tspan font-size="12.58" dy="-5.72">3</tspan><tspan dy="5.72">/s)</tspan></text>
<text x="4.1" y="888.9" font-size="19">(e)</text>
<text transform="translate(257.5,724.4) scale(0.915,1)" font-size="13.4" style="fill:#b3141c;stroke:#b3141c;stroke-width:0.12">R<tspan font-size="10.5">²</tspan> = 0.8683</text>
<rect x="438.6" y="623.5" width="224.8" height="221.8" fill="none" stroke="#555" stroke-width="1.1"/>
<line x1="494.8" y1="845.2" x2="494.8" y2="840.7" stroke="#555" stroke-width="1.1"/>
<line x1="438.6" y1="789.8" x2="443.1" y2="789.8" stroke="#555" stroke-width="1.1"/>
<line x1="551.0" y1="845.2" x2="551.0" y2="840.7" stroke="#555" stroke-width="1.1"/>
<line x1="438.6" y1="734.3" x2="443.1" y2="734.3" stroke="#555" stroke-width="1.1"/>
<line x1="607.2" y1="845.2" x2="607.2" y2="840.7" stroke="#555" stroke-width="1.1"/>
<line x1="438.6" y1="678.9" x2="443.1" y2="678.9" stroke="#555" stroke-width="1.1"/>
<g fill="#ffff00" stroke="#111" stroke-width="0.85">
<line x1="438.6" y1="842.5" x2="661.7" y2="623.5" stroke="#555" stroke-width="0.85" stroke-dasharray="1.3 0.9" />
<circle cx="615.2" cy="628.9" r="3.2"/>
<circle cx="552.2" cy="712.7" r="3.2"/>
<circle cx="551.8" cy="712.1" r="3.2"/>
<circle cx="602.0" cy="736.5" r="3.2"/>
<circle cx="555.1" cy="738.5" r="3.2"/>
<circle cx="599.3" cy="762.9" r="3.2"/>
<circle cx="563.4" cy="762.2" r="3.2"/>
<circle cx="564.7" cy="774.4" r="3.2"/>
<circle cx="559.1" cy="792.6" r="3.2"/>
<circle cx="477.6" cy="757.6" r="3.2"/>
<circle cx="495.4" cy="757.6" r="3.2"/>
<circle cx="531.4" cy="759.9" r="3.2"/>
<circle cx="534.7" cy="757.3" r="3.2"/>
<circle cx="543.2" cy="763.5" r="3.2"/>
<circle cx="527.1" cy="768.2" r="3.2"/>
<circle cx="509.3" cy="768.8" r="3.2"/>
<circle cx="539.3" cy="775.7" r="3.2"/>
<circle cx="526.4" cy="781.4" r="3.2"/>
<circle cx="476.6" cy="768.2" r="3.2"/>
<circle cx="476.3" cy="776.7" r="3.2"/>
<circle cx="490.8" cy="774.8" r="3.2"/>
<circle cx="514.9" cy="785.6" r="3.2"/>
<circle cx="510.3" cy="788.9" r="3.2"/>
<circle cx="513.2" cy="792.6" r="3.2"/>
<circle cx="503.0" cy="792.9" r="3.2"/>
<circle cx="499.7" cy="797.2" r="3.2"/>
<circle cx="518.2" cy="797.5" r="3.2"/>
<circle cx="521.8" cy="800.2" r="3.2"/>
<circle cx="515.9" cy="808.4" r="3.2"/>
<circle cx="502.0" cy="804.8" r="3.2"/>
<circle cx="499.4" cy="816.7" r="3.2"/>
<circle cx="483.4" cy="786.3" r="3.2"/>
<circle cx="495.7" cy="789.8" r="3.2"/>
<circle cx="470.3" cy="793.3" r="3.2"/>
<circle cx="478.9" cy="799.0" r="3.2"/>
<circle cx="493.9" cy="803.0" r="3.2"/>
<circle cx="492.2" cy="811.3" r="3.2"/>
<circle cx="465.5" cy="800.8" r="3.2"/>
<circle cx="462.8" cy="803.4" r="3.2"/>
<circle cx="469.0" cy="804.3" r="3.2"/>
<circle cx="481.7" cy="803.8" r="3.2"/>
<circle cx="478.6" cy="807.3" r="3.2"/>
<circle cx="483.0" cy="810.4" r="3.2"/>
<circle cx="486.5" cy="812.2" r="3.2"/>
<circle cx="456.3" cy="809.1" r="3.2"/>
<circle cx="461.5" cy="807.8" r="3.2"/>
<circle cx="466.8" cy="806.9" r="3.2"/>
<circle cx="471.2" cy="812.2" r="3.2"/>
<circle cx="462.0" cy="813.5" r="3.2"/>
<circle cx="466.8" cy="812.6" r="3.2"/>
<circle cx="479.5" cy="816.1" r="3.2"/>
<circle cx="454.5" cy="815.7" r="3.2"/>
<circle cx="458.9" cy="818.3" r="3.2"/>
<circle cx="465.0" cy="820.0" r="3.2"/>
<circle cx="472.9" cy="818.7" r="3.2"/>
<circle cx="473.8" cy="822.7" r="3.2"/>
<circle cx="486.1" cy="822.2" r="3.2"/>
<circle cx="483.4" cy="827.0" r="3.2"/>
<circle cx="453.2" cy="820.5" r="3.2"/>
<circle cx="451.0" cy="824.9" r="3.2"/>
<circle cx="446.2" cy="826.2" r="3.2"/>
<circle cx="457.1" cy="822.7" r="3.2"/>
<circle cx="463.3" cy="827.5" r="3.2"/>
<circle cx="467.7" cy="824.9" r="3.2"/>
<circle cx="467.2" cy="830.5" r="3.2"/>
<circle cx="456.7" cy="833.6" r="3.2"/>
<circle cx="467.2" cy="835.8" r="3.2"/>
<circle cx="472.9" cy="834.1" r="3.2"/>
<circle cx="449.3" cy="831.0" r="3.2"/>
<circle cx="441.4" cy="831.4" r="3.2"/>
<circle cx="445.8" cy="834.5" r="3.2"/>
<circle cx="451.0" cy="837.6" r="3.2"/>
<circle cx="440.5" cy="841.9" r="3.2"/>
<circle cx="444.0" cy="838.4" r="3.2"/>
<circle cx="447.8" cy="833.8" r="3.2"/>
<circle cx="441.9" cy="840.0" r="3.2"/>
<circle cx="447.4" cy="833.2" r="3.2"/>
<circle cx="442.5" cy="835.9" r="3.2"/>
<circle cx="457.1" cy="821.7" r="3.2"/>
<circle cx="444.6" cy="839.6" r="3.2"/>
<circle cx="441.6" cy="840.9" r="3.2"/>
<circle cx="457.5" cy="815.4" r="3.2"/>
<circle cx="467.2" cy="820.1" r="3.2"/>
<circle cx="451.9" cy="829.3" r="3.2"/>
<circle cx="444.4" cy="840.6" r="3.2"/>
<circle cx="458.9" cy="821.5" r="3.2"/>
<circle cx="468.1" cy="808.4" r="3.2"/>
<circle cx="446.8" cy="839.1" r="3.2"/>
<circle cx="450.0" cy="833.9" r="3.2"/>
<circle cx="468.9" cy="814.4" r="3.2"/>
<circle cx="451.4" cy="833.8" r="3.2"/>
<circle cx="456.8" cy="822.3" r="3.2"/>
<circle cx="464.6" cy="815.0" r="3.2"/>
<circle cx="441.6" cy="842.1" r="3.2"/>
<circle cx="469.2" cy="823.5" r="3.2"/>
<circle cx="462.1" cy="815.0" r="3.2"/>
<circle cx="460.8" cy="812.3" r="3.2"/>
<circle cx="447.7" cy="833.5" r="3.2"/>
<circle cx="453.2" cy="832.1" r="3.2"/>
<circle cx="469.9" cy="811.4" r="3.2"/>
<circle cx="460.7" cy="823.3" r="3.2"/>
<circle cx="451.4" cy="831.8" r="3.2"/>
<circle cx="460.3" cy="821.2" r="3.2"/>
<circle cx="449.1" cy="828.4" r="3.2"/>
<circle cx="456.7" cy="827.8" r="3.2"/>
<circle cx="464.3" cy="813.6" r="3.2"/>
<circle cx="447.5" cy="838.2" r="3.2"/>
<circle cx="450.8" cy="824.1" r="3.2"/>
<circle cx="444.6" cy="842.2" r="3.2"/>
<circle cx="442.3" cy="839.0" r="3.2"/>
<circle cx="453.3" cy="820.9" r="3.2"/>
<circle cx="460.8" cy="817.3" r="3.2"/>
<circle cx="464.0" cy="810.8" r="3.2"/>
<circle cx="467.0" cy="810.9" r="3.2"/>
<circle cx="450.1" cy="833.5" r="3.2"/>
<circle cx="445.3" cy="842.2" r="3.2"/>
<circle cx="441.9" cy="838.4" r="3.2"/>
<circle cx="447.1" cy="838.1" r="3.2"/>
<circle cx="441.6" cy="838.0" r="3.2"/>
<circle cx="469.0" cy="808.5" r="3.2"/>
<circle cx="457.1" cy="828.0" r="3.2"/>
<circle cx="452.6" cy="835.5" r="3.2"/>
<circle cx="458.5" cy="821.5" r="3.2"/>
<circle cx="451.4" cy="833.8" r="3.2"/>
<circle cx="441.8" cy="838.5" r="3.2"/>
<circle cx="444.2" cy="842.2" r="3.2"/>
<circle cx="466.0" cy="819.9" r="3.2"/>
<circle cx="465.1" cy="818.7" r="3.2"/>
<circle cx="467.0" cy="808.6" r="3.2"/>
<circle cx="441.6" cy="842.2" r="3.2"/>
<circle cx="443.3" cy="841.5" r="3.2"/>
<circle cx="455.3" cy="833.4" r="3.2"/>
<circle cx="441.6" cy="835.3" r="3.2"/>
<circle cx="441.8" cy="840.6" r="3.2"/>
<circle cx="442.8" cy="838.4" r="3.2"/>
<circle cx="448.8" cy="832.7" r="3.2"/>
<circle cx="465.0" cy="814.2" r="3.2"/>
<circle cx="441.8" cy="842.2" r="3.2"/>
<circle cx="460.8" cy="824.4" r="3.2"/>
<circle cx="453.0" cy="833.0" r="3.2"/>
<circle cx="447.6" cy="829.9" r="3.2"/>
<circle cx="462.8" cy="821.9" r="3.2"/>
<circle cx="465.3" cy="812.0" r="3.2"/>
<circle cx="444.5" cy="840.6" r="3.2"/>
<circle cx="445.2" cy="836.0" r="3.2"/>
<circle cx="441.6" cy="841.4" r="3.2"/>
<circle cx="445.7" cy="838.1" r="3.2"/>
<circle cx="460.3" cy="828.3" r="3.2"/>
<circle cx="466.0" cy="810.3" r="3.2"/>
<circle cx="450.2" cy="830.3" r="3.2"/>
<circle cx="463.3" cy="821.0" r="3.2"/>
<circle cx="467.0" cy="812.3" r="3.2"/>
<circle cx="448.7" cy="839.7" r="3.2"/>
<circle cx="446.5" cy="835.2" r="3.2"/>
<circle cx="462.3" cy="817.5" r="3.2"/>
<circle cx="445.2" cy="842.2" r="3.2"/>
<circle cx="441.6" cy="842.2" r="3.2"/>
<circle cx="458.3" cy="821.4" r="3.2"/>
<circle cx="454.0" cy="830.1" r="3.2"/>
<circle cx="453.2" cy="827.8" r="3.2"/>
<circle cx="442.0" cy="838.0" r="3.2"/>
<circle cx="444.5" cy="831.6" r="3.2"/>
<circle cx="444.0" cy="842.2" r="3.2"/>
<circle cx="446.5" cy="840.3" r="3.2"/>
<circle cx="441.6" cy="837.9" r="3.2"/>
<circle cx="459.5" cy="821.0" r="3.2"/>
<circle cx="441.6" cy="842.2" r="3.2"/>
<circle cx="441.6" cy="842.2" r="3.2"/>
<circle cx="441.6" cy="842.2" r="3.2"/>
<circle cx="451.7" cy="831.4" r="3.2"/>
<circle cx="443.8" cy="839.7" r="3.2"/>
<circle cx="458.9" cy="818.1" r="3.2"/>
<circle cx="464.0" cy="811.4" r="3.2"/>
<circle cx="454.7" cy="819.6" r="3.2"/>
<circle cx="446.2" cy="834.0" r="3.2"/>
<circle cx="444.4" cy="838.6" r="3.2"/>
<circle cx="459.7" cy="814.0" r="3.2"/>
<circle cx="448.6" cy="826.2" r="3.2"/>
<circle cx="441.6" cy="840.7" r="3.2"/>
<circle cx="441.8" cy="842.2" r="3.2"/>
<circle cx="441.6" cy="842.2" r="3.2"/>
<circle cx="446.1" cy="840.5" r="3.2"/>
<circle cx="441.7" cy="842.2" r="3.2"/>
<circle cx="446.8" cy="840.8" r="3.2"/>
<circle cx="460.7" cy="815.5" r="3.2"/>
<circle cx="464.0" cy="814.6" r="3.2"/>
<circle cx="458.9" cy="818.7" r="3.2"/>
<circle cx="441.6" cy="842.2" r="3.2"/>
<circle cx="461.1" cy="815.6" r="3.2"/>
<circle cx="456.2" cy="821.9" r="3.2"/>
<circle cx="443.9" cy="842.2" r="3.2"/>
<circle cx="454.5" cy="829.4" r="3.2"/>
<circle cx="446.9" cy="831.0" r="3.2"/>
<circle cx="452.7" cy="827.6" r="3.2"/>
<circle cx="441.6" cy="841.7" r="3.2"/>
<circle cx="444.7" cy="842.2" r="3.2"/>
<circle cx="447.4" cy="833.1" r="3.2"/>
<circle cx="444.5" cy="838.1" r="3.2"/>
<circle cx="441.6" cy="842.2" r="3.2"/>
<circle cx="442.0" cy="842.2" r="3.2"/>
<circle cx="441.6" cy="842.2" r="3.2"/>
<circle cx="460.4" cy="820.2" r="3.2"/>
<circle cx="449.5" cy="834.8" r="3.2"/>
<circle cx="444.9" cy="834.3" r="3.2"/>
<circle cx="441.6" cy="842.2" r="3.2"/>
<circle cx="454.1" cy="829.1" r="3.2"/>
<circle cx="458.6" cy="822.7" r="3.2"/>
<circle cx="443.4" cy="841.5" r="3.2"/>
<circle cx="441.6" cy="842.2" r="3.2"/>
<circle cx="447.8" cy="840.5" r="3.2"/>
<circle cx="453.7" cy="831.7" r="3.2"/>
<circle cx="441.6" cy="842.2" r="3.2"/>
<circle cx="442.3" cy="842.2" r="3.2"/>
<circle cx="441.6" cy="842.1" r="3.2"/>
<circle cx="458.1" cy="822.9" r="3.2"/>
<circle cx="445.3" cy="838.9" r="3.2"/>
<circle cx="441.6" cy="841.1" r="3.2"/>
<circle cx="468.5" cy="811.4" r="3.2"/>
<circle cx="441.6" cy="841.1" r="3.2"/>
<circle cx="459.6" cy="816.4" r="3.2"/>
<circle cx="441.6" cy="842.2" r="3.2"/>
<circle cx="441.6" cy="842.2" r="3.2"/>
<circle cx="443.7" cy="838.0" r="3.2"/>
<circle cx="450.6" cy="821.2" r="3.2"/>
<g stroke-width="1.6">
<circle cx="441.6" cy="841.6" r="2.7"/>
<circle cx="441.6" cy="841.5" r="2.7"/>
<circle cx="449.6" cy="832.3" r="2.7"/>
<circle cx="444.5" cy="835.8" r="2.7"/>
<circle cx="445.7" cy="835.8" r="2.7"/>
<circle cx="441.6" cy="840.9" r="2.7"/>
<circle cx="446.8" cy="837.2" r="2.7"/>
<circle cx="445.6" cy="840.6" r="2.7"/>
<circle cx="443.7" cy="842.2" r="2.7"/>
<circle cx="441.8" cy="840.6" r="2.7"/>
<circle cx="444.8" cy="837.7" r="2.7"/>
<circle cx="448.2" cy="837.7" r="2.7"/>
<circle cx="444.3" cy="838.0" r="2.7"/>
<circle cx="451.9" cy="832.6" r="2.7"/>
<circle cx="446.2" cy="837.9" r="2.7"/>
<circle cx="442.2" cy="839.1" r="2.7"/>
<circle cx="445.7" cy="840.0" r="2.7"/>
<circle cx="450.5" cy="833.3" r="2.7"/>
<circle cx="445.0" cy="834.1" r="2.7"/>
<circle cx="447.2" cy="834.4" r="2.7"/>
<circle cx="441.6" cy="842.2" r="2.7"/>
<circle cx="443.2" cy="839.9" r="2.7"/>
<circle cx="445.0" cy="839.2" r="2.7"/>
<circle cx="441.8" cy="838.9" r="2.7"/>
<circle cx="448.4" cy="836.0" r="2.7"/>
<circle cx="441.8" cy="840.7" r="2.7"/>
<circle cx="441.6" cy="842.2" r="2.7"/>
<circle cx="449.1" cy="831.3" r="2.7"/>
<circle cx="441.6" cy="841.7" r="2.7"/>
<circle cx="443.5" cy="842.2" r="2.7"/>
<circle cx="449.3" cy="831.7" r="2.7"/>
<circle cx="443.7" cy="842.2" r="2.7"/>
<circle cx="447.0" cy="835.7" r="2.7"/>
<circle cx="447.8" cy="836.8" r="2.7"/>
<circle cx="449.1" cy="833.6" r="2.7"/>
<circle cx="441.6" cy="840.2" r="2.7"/>
<circle cx="443.6" cy="839.6" r="2.7"/>
<circle cx="441.7" cy="841.0" r="2.7"/>
<circle cx="451.0" cy="833.8" r="2.7"/>
<circle cx="441.6" cy="841.4" r="2.7"/>
</g>
<ellipse cx="443.6" cy="841.0" rx="4.6" ry="3.0" transform="rotate(-40 443.6 841.0)" fill="#111" stroke="none"/>
<circle cx="441.2" cy="842.8" r="3.2"/>
</g>
<line x1="441.1" y1="841.3" x2="614.5" y2="699.5" stroke="#b81c24" stroke-width="1.3" stroke-dasharray="1.1 1.3"/>
<text transform="translate(420.6,850.2) scale(1,1.1)" font-size="16.57" text-anchor="end">-30</text>
<text transform="translate(436.6,870.2) scale(1,1.1)" font-size="16.57" text-anchor="middle">-30</text>
<text transform="translate(420.6,794.8) scale(1,1.1)" font-size="16.57" text-anchor="end">700</text>
<text transform="translate(492.8,870.2) scale(1,1.1)" font-size="16.57" text-anchor="middle">700</text>
<text transform="translate(420.6,739.3) scale(1,1.1)" font-size="16.57" text-anchor="end">1,430</text>
<text transform="translate(549.0,870.2) scale(1,1.1)" font-size="16.57" text-anchor="middle">1,430</text>
<text transform="translate(420.6,683.9) scale(1,1.1)" font-size="16.57" text-anchor="end">2,160</text>
<text transform="translate(605.2,870.2) scale(1,1.1)" font-size="16.57" text-anchor="middle">2,160</text>
<text transform="translate(420.6,628.5) scale(1,1.1)" font-size="16.57" text-anchor="end">2,890</text>
<text transform="translate(661.3,870.2) scale(1,1.1)" font-size="16.57" text-anchor="middle">2,890</text>
<text x="473.1" y="895.3" font-size="19.14">Daily measured (m<tspan font-size="12.63" dy="-5.74">3</tspan><tspan dy="5.74">/s)</tspan></text>
<text transform="translate(367.2,828.8) rotate(-90)" font-size="19.14">Daily predicted (m<tspan font-size="12.63" dy="-5.74">3</tspan><tspan dy="5.74">/s)</tspan></text>
<text x="355.8" y="888.8" font-size="19">(f)</text>
<text transform="translate(601.3,722.6) scale(0.921,1)" font-size="13.4" style="fill:#b3141c;stroke:#b3141c;stroke-width:0.12">R<tspan font-size="10.5">²</tspan> = 0.8632</text>
<rect x="99.6" y="927.2" width="222.8" height="219.7" fill="none" stroke="#555" stroke-width="1.1"/>
<line x1="155.3" y1="1147.0" x2="155.3" y2="1142.5" stroke="#555" stroke-width="1.1"/>
<line x1="99.6" y1="1092.0" x2="104.1" y2="1092.0" stroke="#555" stroke-width="1.1"/>
<line x1="211.0" y1="1147.0" x2="211.0" y2="1142.5" stroke="#555" stroke-width="1.1"/>
<line x1="99.6" y1="1037.1" x2="104.1" y2="1037.1" stroke="#555" stroke-width="1.1"/>
<line x1="266.7" y1="1147.0" x2="266.7" y2="1142.5" stroke="#555" stroke-width="1.1"/>
<line x1="99.6" y1="982.2" x2="104.1" y2="982.2" stroke="#555" stroke-width="1.1"/>
<g fill="#ffff00" stroke="#111" stroke-width="0.85">
<line x1="99.6" y1="1140.5" x2="320.4" y2="927.2" stroke="#555" stroke-width="0.85" stroke-dasharray="1.3 0.9" />
<circle cx="274.6" cy="985.2" r="3.2"/>
<circle cx="261.5" cy="1021.2" r="3.2"/>
<circle cx="259.2" cy="1025.4" r="3.2"/>
<circle cx="212.1" cy="1019.5" r="3.2"/>
<circle cx="203.3" cy="1037.2" r="3.2"/>
<circle cx="215.1" cy="1037.2" r="3.2"/>
<circle cx="178.5" cy="1052.2" r="3.2"/>
<circle cx="187.3" cy="1047.6" r="3.2"/>
<circle cx="194.8" cy="1056.8" r="3.2"/>
<circle cx="191.5" cy="1060.7" r="3.2"/>
<circle cx="170.6" cy="1060.7" r="3.2"/>
<circle cx="155.9" cy="1062.0" r="3.2"/>
<circle cx="224.6" cy="1054.8" r="3.2"/>
<circle cx="223.3" cy="1058.4" r="3.2"/>
<circle cx="212.1" cy="1066.9" r="3.2"/>
<circle cx="186.6" cy="1069.2" r="3.2"/>
<circle cx="199.4" cy="1068.6" r="3.2"/>
<circle cx="194.8" cy="1078.7" r="3.2"/>
<circle cx="219.0" cy="1082.3" r="3.2"/>
<circle cx="151.3" cy="1073.2" r="3.2"/>
<circle cx="139.9" cy="1075.1" r="3.2"/>
<circle cx="137.6" cy="1077.1" r="3.2"/>
<circle cx="138.2" cy="1081.3" r="3.2"/>
<circle cx="144.1" cy="1081.0" r="3.2"/>
<circle cx="160.2" cy="1081.0" r="3.2"/>
<circle cx="163.4" cy="1079.0" r="3.2"/>
<circle cx="169.6" cy="1083.6" r="3.2"/>
<circle cx="175.2" cy="1080.3" r="3.2"/>
<circle cx="163.7" cy="1086.6" r="3.2"/>
<circle cx="124.5" cy="1086.9" r="3.2"/>
<circle cx="160.2" cy="1097.7" r="3.2"/>
<circle cx="173.6" cy="1094.4" r="3.2"/>
<circle cx="176.2" cy="1100.3" r="3.2"/>
<circle cx="182.1" cy="1101.6" r="3.2"/>
<circle cx="162.4" cy="1109.5" r="3.2"/>
<circle cx="123.8" cy="1087.9" r="3.2"/>
<circle cx="129.1" cy="1090.1" r="3.2"/>
<circle cx="156.2" cy="1092.3" r="3.2"/>
<circle cx="121.2" cy="1105.8" r="3.2"/>
<circle cx="123.4" cy="1108.9" r="3.2"/>
<circle cx="127.8" cy="1108.5" r="3.2"/>
<circle cx="131.3" cy="1108.0" r="3.2"/>
<circle cx="137.0" cy="1105.4" r="3.2"/>
<circle cx="143.5" cy="1102.8" r="3.2"/>
<circle cx="147.1" cy="1104.5" r="3.2"/>
<circle cx="152.7" cy="1102.8" r="3.2"/>
<circle cx="154.9" cy="1106.7" r="3.2"/>
<circle cx="131.7" cy="1112.4" r="3.2"/>
<circle cx="143.1" cy="1113.3" r="3.2"/>
<circle cx="119.9" cy="1114.2" r="3.2"/>
<circle cx="124.3" cy="1115.9" r="3.2"/>
<circle cx="126.9" cy="1117.7" r="3.2"/>
<circle cx="134.8" cy="1119.4" r="3.2"/>
<circle cx="139.2" cy="1116.8" r="3.2"/>
<circle cx="146.6" cy="1119.8" r="3.2"/>
<circle cx="142.7" cy="1118.5" r="3.2"/>
<circle cx="139.6" cy="1124.7" r="3.2"/>
<circle cx="144.0" cy="1126.0" r="3.2"/>
<circle cx="115.5" cy="1122.0" r="3.2"/>
<circle cx="111.1" cy="1124.7" r="3.2"/>
<circle cx="121.6" cy="1121.2" r="3.2"/>
<circle cx="124.3" cy="1127.7" r="3.2"/>
<circle cx="128.2" cy="1125.5" r="3.2"/>
<circle cx="131.3" cy="1129.0" r="3.2"/>
<circle cx="127.8" cy="1132.1" r="3.2"/>
<circle cx="118.1" cy="1128.2" r="3.2"/>
<circle cx="110.3" cy="1130.8" r="3.2"/>
<circle cx="105.0" cy="1129.0" r="3.2"/>
<circle cx="106.8" cy="1124.7" r="3.2"/>
<circle cx="103.3" cy="1134.3" r="3.2"/>
<circle cx="117.7" cy="1136.1" r="3.2"/>
<circle cx="128.2" cy="1136.5" r="3.2"/>
<circle cx="108.5" cy="1136.9" r="3.2"/>
<circle cx="112.9" cy="1139.6" r="3.2"/>
<circle cx="101.5" cy="1143.9" r="3.2"/>
<circle cx="139.6" cy="1139.1" r="3.2"/>
<circle cx="105.9" cy="1139.6" r="3.2"/>
<circle cx="125.0" cy="1116.6" r="3.2"/>
<circle cx="120.7" cy="1133.3" r="3.2"/>
<circle cx="125.2" cy="1112.8" r="3.2"/>
<circle cx="111.2" cy="1129.2" r="3.2"/>
<circle cx="119.6" cy="1118.5" r="3.2"/>
<circle cx="117.7" cy="1130.2" r="3.2"/>
<circle cx="106.1" cy="1139.8" r="3.2"/>
<circle cx="109.9" cy="1136.1" r="3.2"/>
<circle cx="107.7" cy="1135.9" r="3.2"/>
<circle cx="125.6" cy="1122.2" r="3.2"/>
<circle cx="110.1" cy="1143.0" r="3.2"/>
<circle cx="111.2" cy="1130.1" r="3.2"/>
<circle cx="119.8" cy="1120.6" r="3.2"/>
<circle cx="105.6" cy="1132.7" r="3.2"/>
<circle cx="130.4" cy="1113.4" r="3.2"/>
<circle cx="132.3" cy="1108.4" r="3.2"/>
<circle cx="114.5" cy="1132.4" r="3.2"/>
<circle cx="112.7" cy="1129.4" r="3.2"/>
<circle cx="119.2" cy="1118.2" r="3.2"/>
<circle cx="102.6" cy="1140.3" r="3.2"/>
<circle cx="102.6" cy="1144.0" r="3.2"/>
<circle cx="111.3" cy="1139.5" r="3.2"/>
<circle cx="114.3" cy="1123.9" r="3.2"/>
<circle cx="106.5" cy="1141.9" r="3.2"/>
<circle cx="117.7" cy="1127.2" r="3.2"/>
<circle cx="102.6" cy="1144.0" r="3.2"/>
<circle cx="120.3" cy="1130.6" r="3.2"/>
<circle cx="113.7" cy="1126.3" r="3.2"/>
<circle cx="107.9" cy="1141.1" r="3.2"/>
<circle cx="127.3" cy="1112.4" r="3.2"/>
<circle cx="102.8" cy="1138.2" r="3.2"/>
<circle cx="103.7" cy="1135.1" r="3.2"/>
<circle cx="113.3" cy="1143.6" r="3.2"/>
<circle cx="123.8" cy="1120.1" r="3.2"/>
<circle cx="115.2" cy="1129.0" r="3.2"/>
<circle cx="103.6" cy="1142.4" r="3.2"/>
<circle cx="114.3" cy="1128.8" r="3.2"/>
<circle cx="120.3" cy="1121.6" r="3.2"/>
<circle cx="118.5" cy="1128.2" r="3.2"/>
<circle cx="123.6" cy="1121.6" r="3.2"/>
<circle cx="111.0" cy="1144.0" r="3.2"/>
<circle cx="108.3" cy="1132.1" r="3.2"/>
<circle cx="128.2" cy="1115.2" r="3.2"/>
<circle cx="111.1" cy="1131.1" r="3.2"/>
<circle cx="113.9" cy="1131.1" r="3.2"/>
<circle cx="129.9" cy="1115.5" r="3.2"/>
<circle cx="108.7" cy="1138.8" r="3.2"/>
<circle cx="112.5" cy="1130.3" r="3.2"/>
<circle cx="109.8" cy="1135.3" r="3.2"/>
<circle cx="108.8" cy="1135.6" r="3.2"/>
<circle cx="106.1" cy="1141.8" r="3.2"/>
<circle cx="131.0" cy="1115.0" r="3.2"/>
<circle cx="102.6" cy="1137.1" r="3.2"/>
<circle cx="111.7" cy="1137.3" r="3.2"/>
<circle cx="119.9" cy="1126.7" r="3.2"/>
<circle cx="119.7" cy="1125.3" r="3.2"/>
<circle cx="111.4" cy="1133.2" r="3.2"/>
<circle cx="125.0" cy="1116.4" r="3.2"/>
<circle cx="112.8" cy="1125.1" r="3.2"/>
<circle cx="115.9" cy="1130.2" r="3.2"/>
<circle cx="113.8" cy="1133.7" r="3.2"/>
<circle cx="120.5" cy="1117.8" r="3.2"/>
<circle cx="118.5" cy="1119.7" r="3.2"/>
<circle cx="102.6" cy="1140.2" r="3.2"/>
<circle cx="105.9" cy="1140.8" r="3.2"/>
<circle cx="127.7" cy="1118.9" r="3.2"/>
<circle cx="107.6" cy="1139.6" r="3.2"/>
<circle cx="104.0" cy="1140.4" r="3.2"/>
<circle cx="117.0" cy="1132.4" r="3.2"/>
<circle cx="103.3" cy="1143.4" r="3.2"/>
<circle cx="115.4" cy="1130.4" r="3.2"/>
<circle cx="108.9" cy="1135.3" r="3.2"/>
<circle cx="109.8" cy="1139.7" r="3.2"/>
<circle cx="118.8" cy="1117.4" r="3.2"/>
<circle cx="129.1" cy="1114.8" r="3.2"/>
<circle cx="125.0" cy="1117.8" r="3.2"/>
<circle cx="102.6" cy="1144.0" r="3.2"/>
<circle cx="112.8" cy="1135.7" r="3.2"/>
<circle cx="112.1" cy="1132.5" r="3.2"/>
<circle cx="102.6" cy="1144.0" r="3.2"/>
<circle cx="123.6" cy="1121.7" r="3.2"/>
<circle cx="116.3" cy="1126.4" r="3.2"/>
<circle cx="127.8" cy="1114.6" r="3.2"/>
<circle cx="124.4" cy="1119.1" r="3.2"/>
<circle cx="115.0" cy="1134.5" r="3.2"/>
<circle cx="102.6" cy="1143.3" r="3.2"/>
<circle cx="120.9" cy="1122.6" r="3.2"/>
<circle cx="103.0" cy="1144.0" r="3.2"/>
<circle cx="111.7" cy="1135.5" r="3.2"/>
<circle cx="116.0" cy="1122.4" r="3.2"/>
<circle cx="131.2" cy="1111.8" r="3.2"/>
<circle cx="102.6" cy="1144.0" r="3.2"/>
<circle cx="120.7" cy="1112.8" r="3.2"/>
<circle cx="129.2" cy="1111.3" r="3.2"/>
<circle cx="114.7" cy="1129.1" r="3.2"/>
<circle cx="105.7" cy="1139.6" r="3.2"/>
<circle cx="119.8" cy="1127.9" r="3.2"/>
<circle cx="108.7" cy="1138.7" r="3.2"/>
<circle cx="108.9" cy="1140.6" r="3.2"/>
<circle cx="102.6" cy="1138.3" r="3.2"/>
<circle cx="108.6" cy="1133.1" r="3.2"/>
<circle cx="122.8" cy="1109.8" r="3.2"/>
<circle cx="102.6" cy="1144.0" r="3.2"/>
<circle cx="124.3" cy="1109.7" r="3.2"/>
<circle cx="102.6" cy="1142.6" r="3.2"/>
<circle cx="102.6" cy="1144.0" r="3.2"/>
<circle cx="108.9" cy="1134.8" r="3.2"/>
<circle cx="104.0" cy="1139.6" r="3.2"/>
<circle cx="125.1" cy="1114.2" r="3.2"/>
<circle cx="104.8" cy="1140.0" r="3.2"/>
<circle cx="122.6" cy="1118.0" r="3.2"/>
<circle cx="105.0" cy="1142.8" r="3.2"/>
<circle cx="109.6" cy="1139.2" r="3.2"/>
<circle cx="108.1" cy="1135.5" r="3.2"/>
<circle cx="116.3" cy="1126.2" r="3.2"/>
<circle cx="124.8" cy="1115.9" r="3.2"/>
<circle cx="102.6" cy="1137.2" r="3.2"/>
<circle cx="105.6" cy="1144.0" r="3.2"/>
<circle cx="105.9" cy="1134.7" r="3.2"/>
<circle cx="110.3" cy="1130.8" r="3.2"/>
<circle cx="103.5" cy="1144.0" r="3.2"/>
<circle cx="111.2" cy="1131.7" r="3.2"/>
<circle cx="110.9" cy="1128.3" r="3.2"/>
<circle cx="105.8" cy="1137.9" r="3.2"/>
<circle cx="123.8" cy="1116.1" r="3.2"/>
<circle cx="112.2" cy="1131.2" r="3.2"/>
<circle cx="109.8" cy="1137.2" r="3.2"/>
<circle cx="125.6" cy="1114.9" r="3.2"/>
<circle cx="113.3" cy="1130.4" r="3.2"/>
<circle cx="110.6" cy="1130.0" r="3.2"/>
<circle cx="103.5" cy="1144.0" r="3.2"/>
<circle cx="119.6" cy="1129.1" r="3.2"/>
<circle cx="107.7" cy="1137.9" r="3.2"/>
<circle cx="103.4" cy="1144.0" r="3.2"/>
<circle cx="113.6" cy="1124.8" r="3.2"/>
<circle cx="120.6" cy="1118.2" r="3.2"/>
<circle cx="102.6" cy="1144.0" r="3.2"/>
<circle cx="115.0" cy="1126.7" r="3.2"/>
<circle cx="106.5" cy="1132.0" r="3.2"/>
<circle cx="105.2" cy="1143.7" r="3.2"/>
<circle cx="111.0" cy="1137.6" r="3.2"/>
<circle cx="109.4" cy="1140.8" r="3.2"/>
<circle cx="115.4" cy="1127.6" r="3.2"/>
<circle cx="127.0" cy="1107.8" r="3.2"/>
<circle cx="104.5" cy="1144.0" r="3.2"/>
<circle cx="134.2" cy="1111.2" r="3.2"/>
<circle cx="114.9" cy="1126.6" r="3.2"/>
<circle cx="113.8" cy="1133.9" r="3.2"/>
<circle cx="118.2" cy="1119.4" r="3.2"/>
<circle cx="123.2" cy="1118.4" r="3.2"/>
<g stroke-width="1.6">
<circle cx="107.5" cy="1137.3" r="2.7"/>
<circle cx="105.7" cy="1142.1" r="2.7"/>
<circle cx="111.6" cy="1132.8" r="2.7"/>
<circle cx="102.6" cy="1144.0" r="2.7"/>
<circle cx="104.9" cy="1142.9" r="2.7"/>
<circle cx="107.0" cy="1142.3" r="2.7"/>
<circle cx="102.6" cy="1143.8" r="2.7"/>
<circle cx="103.5" cy="1140.2" r="2.7"/>
<circle cx="104.2" cy="1140.9" r="2.7"/>
<circle cx="104.1" cy="1143.2" r="2.7"/>
<circle cx="102.6" cy="1142.4" r="2.7"/>
<circle cx="111.4" cy="1130.9" r="2.7"/>
<circle cx="108.4" cy="1136.4" r="2.7"/>
<circle cx="104.4" cy="1141.2" r="2.7"/>
<circle cx="109.9" cy="1132.0" r="2.7"/>
<circle cx="109.9" cy="1141.9" r="2.7"/>
<circle cx="102.6" cy="1144.0" r="2.7"/>
<circle cx="106.1" cy="1140.2" r="2.7"/>
<circle cx="111.3" cy="1135.0" r="2.7"/>
<circle cx="116.0" cy="1132.1" r="2.7"/>
<circle cx="102.8" cy="1142.8" r="2.7"/>
<circle cx="102.6" cy="1144.0" r="2.7"/>
<circle cx="112.1" cy="1134.0" r="2.7"/>
<circle cx="105.9" cy="1143.4" r="2.7"/>
<circle cx="110.2" cy="1136.6" r="2.7"/>
<circle cx="112.1" cy="1135.1" r="2.7"/>
<circle cx="102.6" cy="1141.8" r="2.7"/>
<circle cx="104.8" cy="1143.7" r="2.7"/>
<circle cx="112.0" cy="1135.6" r="2.7"/>
<circle cx="109.5" cy="1139.9" r="2.7"/>
<circle cx="113.3" cy="1133.2" r="2.7"/>
<circle cx="109.2" cy="1134.2" r="2.7"/>
<circle cx="108.5" cy="1136.5" r="2.7"/>
<circle cx="105.3" cy="1142.5" r="2.7"/>
<circle cx="109.5" cy="1137.3" r="2.7"/>
<circle cx="110.1" cy="1136.5" r="2.7"/>
<circle cx="109.4" cy="1134.9" r="2.7"/>
<circle cx="106.0" cy="1144.0" r="2.7"/>
<circle cx="102.6" cy="1144.0" r="2.7"/>
<circle cx="110.4" cy="1134.4" r="2.7"/>
</g>
<ellipse cx="104.6" cy="1142.8" rx="4.6" ry="3.0" transform="rotate(-40 104.6 1142.8)" fill="#111" stroke="none"/>
<circle cx="102.2" cy="1144.5" r="3.2"/>
</g>
<line x1="102.1" y1="1142.2" x2="274.0" y2="994.7" stroke="#b81c24" stroke-width="1.3" stroke-dasharray="1.1 1.3"/>
<text transform="translate(81.6,1152.0) scale(1,1.1)" font-size="16.38" text-anchor="end">-30</text>
<text transform="translate(97.6,1172.0) scale(1,1.1)" font-size="16.38" text-anchor="middle">-30</text>
<text transform="translate(81.6,1097.0) scale(1,1.1)" font-size="16.38" text-anchor="end">700</text>
<text transform="translate(153.3,1172.0) scale(1,1.1)" font-size="16.38" text-anchor="middle">700</text>
<text transform="translate(81.6,1042.1) scale(1,1.1)" font-size="16.38" text-anchor="end">1,430</text>
<text transform="translate(209.0,1172.0) scale(1,1.1)" font-size="16.38" text-anchor="middle">1,430</text>
<text transform="translate(81.6,987.2) scale(1,1.1)" font-size="16.38" text-anchor="end">2,160</text>
<text transform="translate(264.7,1172.0) scale(1,1.1)" font-size="16.38" text-anchor="middle">2,160</text>
<text transform="translate(81.6,932.2) scale(1,1.1)" font-size="16.38" text-anchor="end">2,890</text>
<text transform="translate(320.4,1172.0) scale(1,1.1)" font-size="16.38" text-anchor="middle">2,890</text>
<text x="133.8" y="1196.6" font-size="18.92">Daily measured (m<tspan font-size="12.48" dy="-5.67">3</tspan><tspan dy="5.67">/s)</tspan></text>
<text transform="translate(29.4,1129.8) rotate(-90)" font-size="18.92">Daily predicted (m<tspan font-size="12.48" dy="-5.67">3</tspan><tspan dy="5.67">/s)</tspan></text>
<text x="13.7" y="1187.9" font-size="19">(g)</text>
<text transform="translate(266.8,1016.6) scale(0.92,1)" font-size="13.4" style="fill:#b3141c;stroke:#b3141c;stroke-width:0.12">R<tspan font-size="10.5">²</tspan> = 0.907</text>
<rect x="434.6" y="928.1" width="222.9" height="220.3" fill="none" stroke="#555" stroke-width="1.1"/>
<line x1="490.3" y1="1148.4" x2="490.3" y2="1143.9" stroke="#555" stroke-width="1.1"/>
<line x1="434.6" y1="1093.3" x2="439.1" y2="1093.3" stroke="#555" stroke-width="1.1"/>
<line x1="546.0" y1="1148.4" x2="546.0" y2="1143.9" stroke="#555" stroke-width="1.1"/>
<line x1="434.6" y1="1038.2" x2="439.1" y2="1038.2" stroke="#555" stroke-width="1.1"/>
<line x1="601.8" y1="1148.4" x2="601.8" y2="1143.9" stroke="#555" stroke-width="1.1"/>
<line x1="434.6" y1="983.1" x2="439.1" y2="983.1" stroke="#555" stroke-width="1.1"/>
<g fill="#ffff00" stroke="#111" stroke-width="0.85">
<line x1="434.6" y1="1145.8" x2="655.8" y2="928.1" stroke="#555" stroke-width="0.85" stroke-dasharray="1.3 0.9" />
<circle cx="609.9" cy="1025.4" r="3.2"/>
<circle cx="550.4" cy="1028.7" r="3.2"/>
<circle cx="547.1" cy="1043.4" r="3.2"/>
<circle cx="596.5" cy="1041.1" r="3.2"/>
<circle cx="594.2" cy="1045.4" r="3.2"/>
<circle cx="510.2" cy="1049.6" r="3.2"/>
<circle cx="522.3" cy="1051.3" r="3.2"/>
<circle cx="558.6" cy="1067.6" r="3.2"/>
<circle cx="526.5" cy="1076.4" r="3.2"/>
<circle cx="473.2" cy="1057.5" r="3.2"/>
<circle cx="474.9" cy="1066.0" r="3.2"/>
<circle cx="473.2" cy="1070.2" r="3.2"/>
<circle cx="471.9" cy="1079.1" r="3.2"/>
<circle cx="464.1" cy="1079.7" r="3.2"/>
<circle cx="495.2" cy="1080.4" r="3.2"/>
<circle cx="459.5" cy="1086.3" r="3.2"/>
<circle cx="547.1" cy="1097.4" r="3.2"/>
<circle cx="497.4" cy="1105.9" r="3.2"/>
<circle cx="517.1" cy="1105.9" r="3.2"/>
<circle cx="534.7" cy="1107.5" r="3.2"/>
<circle cx="559.6" cy="1105.5" r="3.2"/>
<circle cx="554.0" cy="1113.1" r="3.2"/>
<circle cx="505.9" cy="1114.0" r="3.2"/>
<circle cx="521.6" cy="1117.3" r="3.2"/>
<circle cx="495.2" cy="1119.3" r="3.2"/>
<circle cx="498.1" cy="1124.5" r="3.2"/>
<circle cx="498.4" cy="1128.8" r="3.2"/>
<circle cx="504.3" cy="1138.6" r="3.2"/>
<circle cx="510.2" cy="1134.3" r="3.2"/>
<circle cx="513.8" cy="1136.3" r="3.2"/>
<circle cx="507.9" cy="1135.0" r="3.2"/>
<circle cx="529.5" cy="1135.0" r="3.2"/>
<circle cx="529.5" cy="1139.9" r="3.2"/>
<circle cx="538.6" cy="1139.2" r="3.2"/>
<circle cx="461.0" cy="1091.2" r="3.2"/>
<circle cx="458.8" cy="1104.8" r="3.2"/>
<circle cx="461.0" cy="1107.0" r="3.2"/>
<circle cx="478.5" cy="1102.6" r="3.2"/>
<circle cx="487.7" cy="1103.5" r="3.2"/>
<circle cx="491.2" cy="1108.3" r="3.2"/>
<circle cx="489.5" cy="1114.0" r="3.2"/>
<circle cx="449.2" cy="1110.9" r="3.2"/>
<circle cx="453.1" cy="1114.4" r="3.2"/>
<circle cx="457.1" cy="1115.7" r="3.2"/>
<circle cx="463.7" cy="1116.2" r="3.2"/>
<circle cx="465.8" cy="1118.8" r="3.2"/>
<circle cx="478.1" cy="1114.4" r="3.2"/>
<circle cx="479.4" cy="1118.8" r="3.2"/>
<circle cx="450.5" cy="1120.5" r="3.2"/>
<circle cx="455.8" cy="1119.2" r="3.2"/>
<circle cx="468.0" cy="1123.6" r="3.2"/>
<circle cx="474.2" cy="1124.0" r="3.2"/>
<circle cx="478.1" cy="1124.9" r="3.2"/>
<circle cx="444.4" cy="1123.2" r="3.2"/>
<circle cx="448.8" cy="1124.0" r="3.2"/>
<circle cx="442.6" cy="1127.5" r="3.2"/>
<circle cx="458.4" cy="1127.5" r="3.2"/>
<circle cx="463.2" cy="1128.0" r="3.2"/>
<circle cx="468.9" cy="1128.9" r="3.2"/>
<circle cx="472.9" cy="1130.6" r="3.2"/>
<circle cx="446.1" cy="1130.2" r="3.2"/>
<circle cx="450.5" cy="1131.0" r="3.2"/>
<circle cx="438.3" cy="1132.8" r="3.2"/>
<circle cx="442.2" cy="1132.4" r="3.2"/>
<circle cx="454.0" cy="1133.7" r="3.2"/>
<circle cx="459.3" cy="1136.3" r="3.2"/>
<circle cx="466.7" cy="1136.3" r="3.2"/>
<circle cx="474.2" cy="1138.1" r="3.2"/>
<circle cx="479.0" cy="1137.2" r="3.2"/>
<circle cx="481.6" cy="1134.5" r="3.2"/>
<circle cx="486.9" cy="1135.9" r="3.2"/>
<circle cx="490.8" cy="1139.4" r="3.2"/>
<circle cx="438.7" cy="1137.2" r="3.2"/>
<circle cx="446.1" cy="1136.7" r="3.2"/>
<circle cx="452.7" cy="1139.8" r="3.2"/>
<circle cx="459.3" cy="1140.7" r="3.2"/>
<circle cx="463.7" cy="1143.7" r="3.2"/>
<circle cx="468.9" cy="1140.7" r="3.2"/>
<circle cx="445.3" cy="1142.4" r="3.2"/>
<circle cx="436.5" cy="1145.1" r="3.2"/>
<circle cx="441.8" cy="1143.7" r="3.2"/>
<circle cx="450.5" cy="1144.2" r="3.2"/>
<circle cx="443.7" cy="1133.3" r="3.2"/>
<circle cx="438.2" cy="1140.6" r="3.2"/>
<circle cx="445.3" cy="1135.0" r="3.2"/>
<circle cx="439.0" cy="1140.8" r="3.2"/>
<circle cx="439.1" cy="1144.2" r="3.2"/>
<circle cx="446.6" cy="1127.1" r="3.2"/>
<circle cx="438.1" cy="1142.0" r="3.2"/>
<circle cx="437.6" cy="1143.1" r="3.2"/>
<circle cx="455.1" cy="1124.3" r="3.2"/>
<circle cx="450.3" cy="1123.4" r="3.2"/>
<circle cx="438.8" cy="1145.4" r="3.2"/>
<circle cx="458.8" cy="1122.6" r="3.2"/>
<circle cx="449.7" cy="1128.1" r="3.2"/>
<circle cx="442.8" cy="1144.3" r="3.2"/>
<circle cx="440.9" cy="1142.7" r="3.2"/>
<circle cx="449.3" cy="1128.7" r="3.2"/>
<circle cx="445.2" cy="1137.4" r="3.2"/>
<circle cx="438.2" cy="1145.4" r="3.2"/>
<circle cx="437.6" cy="1143.9" r="3.2"/>
<circle cx="444.7" cy="1140.9" r="3.2"/>
<circle cx="451.9" cy="1125.4" r="3.2"/>
<circle cx="450.8" cy="1122.8" r="3.2"/>
<circle cx="437.6" cy="1144.5" r="3.2"/>
<circle cx="439.9" cy="1144.3" r="3.2"/>
<circle cx="446.3" cy="1132.9" r="3.2"/>
<circle cx="456.0" cy="1119.3" r="3.2"/>
<circle cx="441.5" cy="1135.6" r="3.2"/>
<circle cx="450.0" cy="1131.0" r="3.2"/>
<circle cx="439.8" cy="1144.4" r="3.2"/>
<circle cx="437.9" cy="1145.4" r="3.2"/>
<circle cx="445.9" cy="1126.0" r="3.2"/>
<circle cx="453.3" cy="1122.4" r="3.2"/>
<circle cx="456.8" cy="1125.2" r="3.2"/>
<circle cx="448.8" cy="1125.0" r="3.2"/>
<circle cx="439.3" cy="1145.4" r="3.2"/>
<circle cx="437.6" cy="1144.4" r="3.2"/>
<circle cx="437.6" cy="1145.4" r="3.2"/>
<circle cx="442.2" cy="1143.3" r="3.2"/>
<circle cx="437.6" cy="1143.7" r="3.2"/>
<circle cx="453.2" cy="1134.0" r="3.2"/>
<circle cx="467.4" cy="1133.1" r="3.2"/>
<circle cx="453.5" cy="1136.6" r="3.2"/>
<circle cx="455.5" cy="1135.4" r="3.2"/>
<circle cx="437.6" cy="1145.4" r="3.2"/>
<circle cx="470.1" cy="1134.2" r="3.2"/>
<circle cx="443.7" cy="1140.1" r="3.2"/>
<circle cx="458.2" cy="1133.7" r="3.2"/>
<circle cx="437.6" cy="1145.4" r="3.2"/>
<circle cx="437.6" cy="1143.3" r="3.2"/>
<circle cx="438.0" cy="1145.4" r="3.2"/>
<circle cx="440.4" cy="1145.1" r="3.2"/>
<circle cx="437.6" cy="1143.5" r="3.2"/>
<circle cx="443.6" cy="1145.4" r="3.2"/>
<circle cx="458.8" cy="1134.7" r="3.2"/>
<circle cx="437.6" cy="1145.4" r="3.2"/>
<circle cx="449.2" cy="1139.0" r="3.2"/>
<circle cx="462.0" cy="1129.1" r="3.2"/>
<circle cx="458.2" cy="1132.4" r="3.2"/>
<circle cx="472.6" cy="1132.7" r="3.2"/>
<circle cx="458.9" cy="1133.8" r="3.2"/>
<circle cx="437.6" cy="1145.4" r="3.2"/>
<circle cx="441.2" cy="1142.8" r="3.2"/>
<circle cx="441.3" cy="1143.1" r="3.2"/>
<circle cx="439.8" cy="1145.4" r="3.2"/>
<circle cx="437.6" cy="1145.4" r="3.2"/>
<circle cx="437.6" cy="1142.8" r="3.2"/>
<circle cx="439.3" cy="1143.4" r="3.2"/>
<circle cx="446.9" cy="1145.4" r="3.2"/>
<circle cx="454.6" cy="1137.7" r="3.2"/>
<circle cx="446.6" cy="1140.8" r="3.2"/>
<circle cx="452.7" cy="1142.1" r="3.2"/>
<circle cx="439.9" cy="1145.4" r="3.2"/>
<circle cx="439.9" cy="1145.4" r="3.2"/>
<circle cx="437.7" cy="1145.4" r="3.2"/>
<circle cx="437.6" cy="1145.4" r="3.2"/>
<circle cx="447.7" cy="1145.4" r="3.2"/>
<circle cx="437.6" cy="1145.4" r="3.2"/>
<circle cx="455.6" cy="1142.1" r="3.2"/>
<circle cx="437.6" cy="1143.5" r="3.2"/>
<circle cx="440.7" cy="1144.6" r="3.2"/>
<circle cx="467.2" cy="1139.4" r="3.2"/>
<circle cx="468.2" cy="1144.6" r="3.2"/>
<circle cx="455.4" cy="1142.2" r="3.2"/>
<circle cx="437.6" cy="1145.4" r="3.2"/>
<circle cx="455.7" cy="1144.3" r="3.2"/>
<circle cx="445.8" cy="1145.4" r="3.2"/>
<circle cx="441.9" cy="1145.4" r="3.2"/>
<circle cx="463.5" cy="1142.0" r="3.2"/>
<circle cx="437.6" cy="1145.4" r="3.2"/>
<circle cx="453.4" cy="1145.3" r="3.2"/>
<circle cx="437.6" cy="1145.4" r="3.2"/>
<circle cx="442.6" cy="1145.4" r="3.2"/>
<circle cx="437.6" cy="1145.4" r="3.2"/>
<circle cx="456.5" cy="1144.3" r="3.2"/>
<circle cx="444.8" cy="1145.2" r="3.2"/>
<g stroke-width="1.6">
<circle cx="437.6" cy="1145.4" r="2.7"/>
<circle cx="437.6" cy="1143.1" r="2.7"/>
<circle cx="437.6" cy="1145.4" r="2.7"/>
<circle cx="442.8" cy="1138.3" r="2.7"/>
<circle cx="437.6" cy="1144.7" r="2.7"/>
<circle cx="445.6" cy="1137.8" r="2.7"/>
<circle cx="444.7" cy="1136.0" r="2.7"/>
<circle cx="438.7" cy="1140.3" r="2.7"/>
<circle cx="437.6" cy="1145.4" r="2.7"/>
<circle cx="438.2" cy="1145.4" r="2.7"/>
<circle cx="446.8" cy="1139.0" r="2.7"/>
<circle cx="439.9" cy="1142.1" r="2.7"/>
<circle cx="437.6" cy="1142.8" r="2.7"/>
<circle cx="441.7" cy="1142.0" r="2.7"/>
<circle cx="446.9" cy="1137.1" r="2.7"/>
<circle cx="442.9" cy="1142.6" r="2.7"/>
<circle cx="441.2" cy="1140.5" r="2.7"/>
<circle cx="438.1" cy="1143.5" r="2.7"/>
<circle cx="437.6" cy="1145.4" r="2.7"/>
<circle cx="442.9" cy="1141.5" r="2.7"/>
<circle cx="442.1" cy="1140.7" r="2.7"/>
<circle cx="444.7" cy="1137.7" r="2.7"/>
<circle cx="446.5" cy="1140.2" r="2.7"/>
<circle cx="438.6" cy="1144.6" r="2.7"/>
<circle cx="444.2" cy="1137.8" r="2.7"/>
<circle cx="440.1" cy="1144.6" r="2.7"/>
<circle cx="439.6" cy="1145.4" r="2.7"/>
<circle cx="441.4" cy="1141.3" r="2.7"/>
<circle cx="441.7" cy="1144.0" r="2.7"/>
<circle cx="444.6" cy="1140.5" r="2.7"/>
<circle cx="446.7" cy="1143.6" r="2.7"/>
<circle cx="437.6" cy="1145.4" r="2.7"/>
<circle cx="446.9" cy="1144.5" r="2.7"/>
<circle cx="444.7" cy="1143.3" r="2.7"/>
<circle cx="437.6" cy="1145.4" r="2.7"/>
<circle cx="437.6" cy="1145.4" r="2.7"/>
<circle cx="443.6" cy="1145.4" r="2.7"/>
<circle cx="437.6" cy="1145.4" r="2.7"/>
<circle cx="441.9" cy="1144.6" r="2.7"/>
<circle cx="444.7" cy="1143.1" r="2.7"/>
<circle cx="443.2" cy="1145.4" r="2.7"/>
<circle cx="449.1" cy="1141.6" r="2.7"/>
<circle cx="443.5" cy="1145.4" r="2.7"/>
<circle cx="438.1" cy="1142.9" r="2.7"/>
<circle cx="439.0" cy="1145.4" r="2.7"/>
<circle cx="437.7" cy="1145.4" r="2.7"/>
<circle cx="448.0" cy="1145.4" r="2.7"/>
<circle cx="438.4" cy="1145.4" r="2.7"/>
<circle cx="445.0" cy="1141.1" r="2.7"/>
<circle cx="437.6" cy="1145.4" r="2.7"/>
</g>
<ellipse cx="439.6" cy="1144.2" rx="4.6" ry="3.0" transform="rotate(-40 439.6 1144.2)" fill="#111" stroke="none"/>
<circle cx="437.2" cy="1146.0" r="3.2"/>
</g>
<line x1="437.1" y1="1144.8" x2="609.0" y2="1046.4" stroke="#b81c24" stroke-width="1.3" stroke-dasharray="1.1 1.3"/>
<text transform="translate(416.6,1153.4) scale(1,1.1)" font-size="16.39" text-anchor="end">-30</text>
<text transform="translate(432.6,1173.4) scale(1,1.1)" font-size="16.39" text-anchor="middle">-30</text>
<text transform="translate(416.6,1098.3) scale(1,1.1)" font-size="16.39" text-anchor="end">700</text>
<text transform="translate(488.3,1173.4) scale(1,1.1)" font-size="16.39" text-anchor="middle">700</text>
<text transform="translate(416.6,1043.2) scale(1,1.1)" font-size="16.39" text-anchor="end">1,430</text>
<text transform="translate(544.0,1173.4) scale(1,1.1)" font-size="16.39" text-anchor="middle">1,430</text>
<text transform="translate(416.6,988.1) scale(1,1.1)" font-size="16.39" text-anchor="end">2,160</text>
<text transform="translate(599.8,1173.4) scale(1,1.1)" font-size="16.39" text-anchor="middle">2,160</text>
<text transform="translate(416.6,933.1) scale(1,1.1)" font-size="16.39" text-anchor="end">2,890</text>
<text transform="translate(655.5,1173.4) scale(1,1.1)" font-size="16.39" text-anchor="middle">2,890</text>
<text x="468.3" y="1197.9" font-size="18.93">Daily measured (m<tspan font-size="12.50" dy="-5.68">3</tspan><tspan dy="5.68">/s)</tspan></text>
<text transform="translate(363.8,1131.4) rotate(-90)" font-size="18.93">Daily predicted (m<tspan font-size="12.50" dy="-5.68">3</tspan><tspan dy="5.68">/s)</tspan></text>
<text x="352.8" y="1188.7" font-size="19">(h)</text>
<text transform="translate(595.9,1069.9) scale(0.915,1)" font-size="13.4" style="fill:#b3141c;stroke:#b3141c;stroke-width:0.12">R<tspan font-size="10.5">²</tspan> = 0.65</text>
<rect x="91.1" y="1229.6" width="226.4" height="223.6" fill="none" stroke="#555" stroke-width="1.1"/>
<line x1="147.7" y1="1453.2" x2="147.7" y2="1448.7" stroke="#555" stroke-width="1.1"/>
<line x1="91.1" y1="1397.3" x2="95.6" y2="1397.3" stroke="#555" stroke-width="1.1"/>
<line x1="204.3" y1="1453.2" x2="204.3" y2="1448.7" stroke="#555" stroke-width="1.1"/>
<line x1="91.1" y1="1341.4" x2="95.6" y2="1341.4" stroke="#555" stroke-width="1.1"/>
<line x1="260.9" y1="1453.2" x2="260.9" y2="1448.7" stroke="#555" stroke-width="1.1"/>
<line x1="91.1" y1="1285.5" x2="95.6" y2="1285.5" stroke="#555" stroke-width="1.1"/>
<g fill="#ffff00" stroke="#111" stroke-width="0.85">
<line x1="91.1" y1="1450.6" x2="317.1" y2="1229.6" stroke="#555" stroke-width="0.85" stroke-dasharray="1.3 0.9" />
<circle cx="269.1" cy="1304.2" r="3.2"/>
<circle cx="256.1" cy="1332.2" r="3.2"/>
<circle cx="208.5" cy="1344.5" r="3.2"/>
<circle cx="217.1" cy="1358.5" r="3.2"/>
<circle cx="253.4" cy="1353.2" r="3.2"/>
<circle cx="205.2" cy="1365.8" r="3.2"/>
<circle cx="168.2" cy="1373.1" r="3.2"/>
<circle cx="180.5" cy="1373.1" r="3.2"/>
<circle cx="184.2" cy="1383.8" r="3.2"/>
<circle cx="129.9" cy="1371.5" r="3.2"/>
<circle cx="130.3" cy="1379.8" r="3.2"/>
<circle cx="131.9" cy="1383.8" r="3.2"/>
<circle cx="152.9" cy="1401.7" r="3.2"/>
<circle cx="192.8" cy="1404.4" r="3.2"/>
<circle cx="205.2" cy="1398.1" r="3.2"/>
<circle cx="212.5" cy="1408.1" r="3.2"/>
<circle cx="218.5" cy="1409.1" r="3.2"/>
<circle cx="174.5" cy="1418.7" r="3.2"/>
<circle cx="163.2" cy="1423.7" r="3.2"/>
<circle cx="149.2" cy="1419.7" r="3.2"/>
<circle cx="179.9" cy="1431.4" r="3.2"/>
<circle cx="168.9" cy="1434.0" r="3.2"/>
<circle cx="153.2" cy="1424.4" r="3.2"/>
<circle cx="156.2" cy="1428.0" r="3.2"/>
<circle cx="155.6" cy="1430.0" r="3.2"/>
<circle cx="166.2" cy="1441.4" r="3.2"/>
<circle cx="162.6" cy="1444.7" r="3.2"/>
<circle cx="171.2" cy="1444.7" r="3.2"/>
<circle cx="187.5" cy="1440.7" r="3.2"/>
<circle cx="187.9" cy="1447.3" r="3.2"/>
<circle cx="196.5" cy="1446.0" r="3.2"/>
<circle cx="129.3" cy="1396.2" r="3.2"/>
<circle cx="118.3" cy="1406.3" r="3.2"/>
<circle cx="121.8" cy="1406.7" r="3.2"/>
<circle cx="116.2" cy="1411.5" r="3.2"/>
<circle cx="136.3" cy="1419.8" r="3.2"/>
<circle cx="135.4" cy="1423.3" r="3.2"/>
<circle cx="145.1" cy="1422.9" r="3.2"/>
<circle cx="147.7" cy="1420.3" r="3.2"/>
<circle cx="146.8" cy="1429.0" r="3.2"/>
<circle cx="106.1" cy="1425.1" r="3.2"/>
<circle cx="115.3" cy="1424.7" r="3.2"/>
<circle cx="120.5" cy="1428.6" r="3.2"/>
<circle cx="124.9" cy="1425.1" r="3.2"/>
<circle cx="131.0" cy="1428.6" r="3.2"/>
<circle cx="107.4" cy="1429.0" r="3.2"/>
<circle cx="100.4" cy="1432.5" r="3.2"/>
<circle cx="107.4" cy="1434.3" r="3.2"/>
<circle cx="111.8" cy="1429.9" r="3.2"/>
<circle cx="117.0" cy="1432.5" r="3.2"/>
<circle cx="120.5" cy="1432.5" r="3.2"/>
<circle cx="126.7" cy="1435.2" r="3.2"/>
<circle cx="135.0" cy="1436.0" r="3.2"/>
<circle cx="139.4" cy="1436.9" r="3.2"/>
<circle cx="96.0" cy="1438.7" r="3.2"/>
<circle cx="102.1" cy="1437.8" r="3.2"/>
<circle cx="110.0" cy="1438.7" r="3.2"/>
<circle cx="116.2" cy="1441.3" r="3.2"/>
<circle cx="123.6" cy="1441.3" r="3.2"/>
<circle cx="131.9" cy="1443.5" r="3.2"/>
<circle cx="136.3" cy="1443.1" r="3.2"/>
<circle cx="144.2" cy="1441.3" r="3.2"/>
<circle cx="147.7" cy="1446.6" r="3.2"/>
<circle cx="139.4" cy="1445.7" r="3.2"/>
<circle cx="94.3" cy="1441.3" r="3.2"/>
<circle cx="99.5" cy="1441.3" r="3.2"/>
<circle cx="109.1" cy="1446.6" r="3.2"/>
<circle cx="119.7" cy="1448.3" r="3.2"/>
<circle cx="100.4" cy="1447.4" r="3.2"/>
<circle cx="92.5" cy="1450.1" r="3.2"/>
<circle cx="104.8" cy="1443.9" r="3.2"/>
<circle cx="114.4" cy="1445.2" r="3.2"/>
<circle cx="94.1" cy="1447.9" r="3.2"/>
<circle cx="98.6" cy="1450.2" r="3.2"/>
<circle cx="104.0" cy="1438.6" r="3.2"/>
<circle cx="96.2" cy="1450.2" r="3.2"/>
<circle cx="104.1" cy="1446.8" r="3.2"/>
<circle cx="94.1" cy="1450.2" r="3.2"/>
<circle cx="114.1" cy="1426.9" r="3.2"/>
<circle cx="103.1" cy="1444.7" r="3.2"/>
<circle cx="102.6" cy="1450.2" r="3.2"/>
<circle cx="98.2" cy="1450.2" r="3.2"/>
<circle cx="95.4" cy="1450.2" r="3.2"/>
<circle cx="97.7" cy="1448.1" r="3.2"/>
<circle cx="98.2" cy="1450.2" r="3.2"/>
<circle cx="94.1" cy="1448.9" r="3.2"/>
<circle cx="116.5" cy="1430.5" r="3.2"/>
<circle cx="101.8" cy="1438.2" r="3.2"/>
<circle cx="94.1" cy="1450.2" r="3.2"/>
<circle cx="98.1" cy="1448.5" r="3.2"/>
<circle cx="94.4" cy="1450.2" r="3.2"/>
<circle cx="98.3" cy="1448.7" r="3.2"/>
<circle cx="95.9" cy="1450.2" r="3.2"/>
<circle cx="111.3" cy="1432.3" r="3.2"/>
<circle cx="99.2" cy="1443.9" r="3.2"/>
<circle cx="97.5" cy="1443.2" r="3.2"/>
<circle cx="94.4" cy="1450.2" r="3.2"/>
<circle cx="109.6" cy="1437.5" r="3.2"/>
<circle cx="95.4" cy="1450.2" r="3.2"/>
<circle cx="107.5" cy="1436.2" r="3.2"/>
<circle cx="100.4" cy="1437.7" r="3.2"/>
<circle cx="106.5" cy="1437.7" r="3.2"/>
<circle cx="108.5" cy="1430.6" r="3.2"/>
<circle cx="96.5" cy="1448.3" r="3.2"/>
<circle cx="110.0" cy="1437.3" r="3.2"/>
<circle cx="107.3" cy="1436.0" r="3.2"/>
<circle cx="109.8" cy="1438.5" r="3.2"/>
<circle cx="94.1" cy="1450.2" r="3.2"/>
<circle cx="94.1" cy="1450.2" r="3.2"/>
<circle cx="113.8" cy="1429.7" r="3.2"/>
<circle cx="96.9" cy="1449.7" r="3.2"/>
<circle cx="105.9" cy="1441.5" r="3.2"/>
<circle cx="109.5" cy="1432.9" r="3.2"/>
<circle cx="97.6" cy="1446.0" r="3.2"/>
<circle cx="107.3" cy="1440.3" r="3.2"/>
<circle cx="94.3" cy="1449.9" r="3.2"/>
<circle cx="103.4" cy="1442.3" r="3.2"/>
<circle cx="125.1" cy="1439.3" r="3.2"/>
<circle cx="128.0" cy="1438.9" r="3.2"/>
<circle cx="104.5" cy="1450.1" r="3.2"/>
<circle cx="96.6" cy="1450.2" r="3.2"/>
<circle cx="108.7" cy="1445.1" r="3.2"/>
<circle cx="122.2" cy="1439.0" r="3.2"/>
<circle cx="117.9" cy="1439.7" r="3.2"/>
<circle cx="95.8" cy="1448.5" r="3.2"/>
<circle cx="124.3" cy="1433.1" r="3.2"/>
<circle cx="102.7" cy="1444.0" r="3.2"/>
<circle cx="97.0" cy="1450.2" r="3.2"/>
<circle cx="117.4" cy="1442.2" r="3.2"/>
<circle cx="95.0" cy="1448.1" r="3.2"/>
<circle cx="96.7" cy="1450.2" r="3.2"/>
<circle cx="95.3" cy="1450.2" r="3.2"/>
<circle cx="98.8" cy="1450.0" r="3.2"/>
<circle cx="121.1" cy="1442.2" r="3.2"/>
<circle cx="103.5" cy="1450.2" r="3.2"/>
<circle cx="99.5" cy="1449.1" r="3.2"/>
<circle cx="109.5" cy="1450.2" r="3.2"/>
<circle cx="94.7" cy="1450.2" r="3.2"/>
<circle cx="125.7" cy="1438.7" r="3.2"/>
<circle cx="102.6" cy="1450.2" r="3.2"/>
<circle cx="94.1" cy="1450.2" r="3.2"/>
<circle cx="95.3" cy="1450.2" r="3.2"/>
<circle cx="94.1" cy="1450.2" r="3.2"/>
<circle cx="108.4" cy="1449.5" r="3.2"/>
<circle cx="94.1" cy="1450.2" r="3.2"/>
<circle cx="117.6" cy="1441.0" r="3.2"/>
<circle cx="98.0" cy="1447.7" r="3.2"/>
<circle cx="126.9" cy="1435.1" r="3.2"/>
<circle cx="109.6" cy="1442.5" r="3.2"/>
<circle cx="115.5" cy="1440.0" r="3.2"/>
<circle cx="126.6" cy="1439.6" r="3.2"/>
<circle cx="105.8" cy="1447.4" r="3.2"/>
<circle cx="107.5" cy="1445.8" r="3.2"/>
<circle cx="94.9" cy="1450.2" r="3.2"/>
<circle cx="94.1" cy="1450.2" r="3.2"/>
<circle cx="119.7" cy="1443.0" r="3.2"/>
<circle cx="94.1" cy="1450.2" r="3.2"/>
<g stroke-width="1.6">
<circle cx="102.8" cy="1445.6" r="2.7"/>
<circle cx="104.1" cy="1445.5" r="2.7"/>
<circle cx="99.0" cy="1445.6" r="2.7"/>
<circle cx="96.7" cy="1447.7" r="2.7"/>
<circle cx="100.1" cy="1447.8" r="2.7"/>
<circle cx="101.2" cy="1444.7" r="2.7"/>
<circle cx="98.3" cy="1445.5" r="2.7"/>
<circle cx="99.2" cy="1446.1" r="2.7"/>
<circle cx="94.1" cy="1450.2" r="2.7"/>
<circle cx="97.5" cy="1450.2" r="2.7"/>
<circle cx="94.1" cy="1450.1" r="2.7"/>
<circle cx="96.1" cy="1448.4" r="2.7"/>
<circle cx="96.3" cy="1450.2" r="2.7"/>
<circle cx="99.8" cy="1447.1" r="2.7"/>
<circle cx="101.0" cy="1448.4" r="2.7"/>
<circle cx="96.7" cy="1443.0" r="2.7"/>
<circle cx="95.1" cy="1450.2" r="2.7"/>
<circle cx="94.1" cy="1450.2" r="2.7"/>
<circle cx="95.2" cy="1449.3" r="2.7"/>
<circle cx="94.1" cy="1450.2" r="2.7"/>
<circle cx="94.1" cy="1449.2" r="2.7"/>
<circle cx="94.1" cy="1450.2" r="2.7"/>
<circle cx="95.5" cy="1447.5" r="2.7"/>
<circle cx="103.5" cy="1446.1" r="2.7"/>
<circle cx="94.5" cy="1450.2" r="2.7"/>
<circle cx="96.5" cy="1450.2" r="2.7"/>
<circle cx="94.1" cy="1450.2" r="2.7"/>
<circle cx="98.5" cy="1447.6" r="2.7"/>
<circle cx="94.1" cy="1450.2" r="2.7"/>
<circle cx="94.1" cy="1449.4" r="2.7"/>
<circle cx="102.0" cy="1449.7" r="2.7"/>
<circle cx="100.5" cy="1448.5" r="2.7"/>
<circle cx="104.7" cy="1445.8" r="2.7"/>
<circle cx="99.8" cy="1448.8" r="2.7"/>
<circle cx="94.8" cy="1450.2" r="2.7"/>
<circle cx="99.6" cy="1447.4" r="2.7"/>
<circle cx="103.7" cy="1446.4" r="2.7"/>
<circle cx="96.7" cy="1450.1" r="2.7"/>
<circle cx="99.5" cy="1447.1" r="2.7"/>
<circle cx="105.4" cy="1447.9" r="2.7"/>
<circle cx="94.1" cy="1450.1" r="2.7"/>
<circle cx="94.1" cy="1450.2" r="2.7"/>
<circle cx="102.9" cy="1447.6" r="2.7"/>
<circle cx="105.0" cy="1448.0" r="2.7"/>
<circle cx="95.9" cy="1450.1" r="2.7"/>
<circle cx="98.5" cy="1450.2" r="2.7"/>
<circle cx="96.1" cy="1450.2" r="2.7"/>
<circle cx="97.4" cy="1450.2" r="2.7"/>
<circle cx="104.5" cy="1447.3" r="2.7"/>
<circle cx="95.0" cy="1448.2" r="2.7"/>
</g>
<ellipse cx="96.1" cy="1449.0" rx="4.6" ry="3.0" transform="rotate(-40 96.1 1449.0)" fill="#111" stroke="none"/>
<circle cx="93.7" cy="1450.8" r="3.2"/>
</g>
<line x1="93.6" y1="1449.9" x2="268.1" y2="1355.8" stroke="#b81c24" stroke-width="1.3" stroke-dasharray="1.1 1.3"/>
<text transform="translate(73.1,1458.2) scale(1,1.1)" font-size="16.58" text-anchor="end">-30</text>
<text transform="translate(89.1,1478.2) scale(1,1.1)" font-size="16.58" text-anchor="middle">-30</text>
<text transform="translate(73.1,1402.3) scale(1,1.1)" font-size="16.58" text-anchor="end">700</text>
<text transform="translate(145.7,1478.2) scale(1,1.1)" font-size="16.58" text-anchor="middle">700</text>
<text transform="translate(73.1,1346.4) scale(1,1.1)" font-size="16.58" text-anchor="end">1,430</text>
<text transform="translate(202.3,1478.2) scale(1,1.1)" font-size="16.58" text-anchor="middle">1,430</text>
<text transform="translate(73.1,1290.5) scale(1,1.1)" font-size="16.58" text-anchor="end">2,160</text>
<text transform="translate(258.9,1478.2) scale(1,1.1)" font-size="16.58" text-anchor="middle">2,160</text>
<text transform="translate(73.1,1234.6) scale(1,1.1)" font-size="16.58" text-anchor="end">2,890</text>
<text transform="translate(315.5,1478.2) scale(1,1.1)" font-size="16.58" text-anchor="middle">2,890</text>
<text x="126.4" y="1503.9" font-size="19.14">Daily measured (m<tspan font-size="12.63" dy="-5.74">3</tspan><tspan dy="5.74">/s)</tspan></text>
<text transform="translate(19.8,1435.6) rotate(-90)" font-size="19.14">Daily predicted (m<tspan font-size="12.63" dy="-5.74">3</tspan><tspan dy="5.74">/s)</tspan></text>
<text x="0.0" y="1499.9" font-size="19">(i)</text>
<text transform="translate(242.5,1379.5) scale(0.928,1)" font-size="13.4" style="fill:#b3141c;stroke:#b3141c;stroke-width:0.12">R<tspan font-size="10.5">²</tspan> = 0.7039</text>
<rect x="441.5" y="1234.5" width="227.0" height="223.9" fill="none" stroke="#555" stroke-width="1.1"/>
<line x1="498.2" y1="1458.4" x2="498.2" y2="1453.9" stroke="#555" stroke-width="1.1"/>
<line x1="441.5" y1="1402.4" x2="446.0" y2="1402.4" stroke="#555" stroke-width="1.1"/>
<line x1="555.0" y1="1458.4" x2="555.0" y2="1453.9" stroke="#555" stroke-width="1.1"/>
<line x1="441.5" y1="1346.4" x2="446.0" y2="1346.4" stroke="#555" stroke-width="1.1"/>
<line x1="611.8" y1="1458.4" x2="611.8" y2="1453.9" stroke="#555" stroke-width="1.1"/>
<line x1="441.5" y1="1290.5" x2="446.0" y2="1290.5" stroke="#555" stroke-width="1.1"/>
<g fill="#ffff00" stroke="#111" stroke-width="0.85">
<line x1="441.5" y1="1456.9" x2="667.3" y2="1234.5" stroke="#555" stroke-width="0.85" stroke-dasharray="1.3 0.9" />
<circle cx="620.1" cy="1305.6" r="3.2"/>
<circle cx="547.2" cy="1314.5" r="3.2"/>
<circle cx="607.1" cy="1335.5" r="3.2"/>
<circle cx="556.2" cy="1346.2" r="3.2"/>
<circle cx="559.5" cy="1356.5" r="3.2"/>
<circle cx="498.9" cy="1352.2" r="3.2"/>
<circle cx="512.9" cy="1360.8" r="3.2"/>
<circle cx="567.5" cy="1372.8" r="3.2"/>
<circle cx="604.4" cy="1375.8" r="3.2"/>
<circle cx="518.6" cy="1374.5" r="3.2"/>
<circle cx="530.9" cy="1376.5" r="3.2"/>
<circle cx="535.2" cy="1374.5" r="3.2"/>
<circle cx="480.9" cy="1376.1" r="3.2"/>
<circle cx="494.3" cy="1386.4" r="3.2"/>
<circle cx="521.9" cy="1394.1" r="3.2"/>
<circle cx="482.6" cy="1396.4" r="3.2"/>
<circle cx="556.2" cy="1399.4" r="3.2"/>
<circle cx="538.2" cy="1407.1" r="3.2"/>
<circle cx="543.5" cy="1407.7" r="3.2"/>
<circle cx="563.2" cy="1411.4" r="3.2"/>
<circle cx="569.5" cy="1410.4" r="3.2"/>
<circle cx="502.9" cy="1413.7" r="3.2"/>
<circle cx="505.6" cy="1418.7" r="3.2"/>
<circle cx="525.5" cy="1423.1" r="3.2"/>
<circle cx="538.5" cy="1424.1" r="3.2"/>
<circle cx="513.6" cy="1427.4" r="3.2"/>
<circle cx="503.6" cy="1429.4" r="3.2"/>
<circle cx="506.9" cy="1433.0" r="3.2"/>
<circle cx="530.2" cy="1433.7" r="3.2"/>
<circle cx="517.2" cy="1441.4" r="3.2"/>
<circle cx="519.9" cy="1442.0" r="3.2"/>
<circle cx="479.9" cy="1402.1" r="3.2"/>
<circle cx="486.9" cy="1406.4" r="3.2"/>
<circle cx="480.7" cy="1409.5" r="3.2"/>
<circle cx="466.3" cy="1411.3" r="3.2"/>
<circle cx="475.0" cy="1413.0" r="3.2"/>
<circle cx="471.5" cy="1415.6" r="3.2"/>
<circle cx="488.2" cy="1416.1" r="3.2"/>
<circle cx="486.0" cy="1417.8" r="3.2"/>
<circle cx="499.6" cy="1409.5" r="3.2"/>
<circle cx="468.0" cy="1418.3" r="3.2"/>
<circle cx="474.2" cy="1419.6" r="3.2"/>
<circle cx="466.3" cy="1422.2" r="3.2"/>
<circle cx="470.7" cy="1422.2" r="3.2"/>
<circle cx="479.4" cy="1423.5" r="3.2"/>
<circle cx="496.1" cy="1420.9" r="3.2"/>
<circle cx="497.4" cy="1425.7" r="3.2"/>
<circle cx="456.2" cy="1424.4" r="3.2"/>
<circle cx="463.2" cy="1427.0" r="3.2"/>
<circle cx="468.0" cy="1428.3" r="3.2"/>
<circle cx="471.5" cy="1431.4" r="3.2"/>
<circle cx="482.0" cy="1432.7" r="3.2"/>
<circle cx="486.0" cy="1429.2" r="3.2"/>
<circle cx="458.4" cy="1434.0" r="3.2"/>
<circle cx="466.3" cy="1435.8" r="3.2"/>
<circle cx="470.7" cy="1437.1" r="3.2"/>
<circle cx="476.8" cy="1437.1" r="3.2"/>
<circle cx="484.2" cy="1436.7" r="3.2"/>
<circle cx="452.7" cy="1437.5" r="3.2"/>
<circle cx="456.6" cy="1434.0" r="3.2"/>
<circle cx="461.9" cy="1438.4" r="3.2"/>
<circle cx="489.1" cy="1441.9" r="3.2"/>
<circle cx="486.4" cy="1446.3" r="3.2"/>
<circle cx="481.2" cy="1445.4" r="3.2"/>
<circle cx="457.5" cy="1442.8" r="3.2"/>
<circle cx="466.3" cy="1441.9" r="3.2"/>
<circle cx="470.7" cy="1445.4" r="3.2"/>
<circle cx="476.8" cy="1446.7" r="3.2"/>
<circle cx="448.8" cy="1441.9" r="3.2"/>
<circle cx="444.4" cy="1446.3" r="3.2"/>
<circle cx="453.1" cy="1446.3" r="3.2"/>
<circle cx="460.1" cy="1450.7" r="3.2"/>
<circle cx="467.6" cy="1451.1" r="3.2"/>
<circle cx="475.9" cy="1452.4" r="3.2"/>
<circle cx="480.3" cy="1450.7" r="3.2"/>
<circle cx="451.4" cy="1451.6" r="3.2"/>
<circle cx="443.5" cy="1455.1" r="3.2"/>
<circle cx="457.5" cy="1455.1" r="3.2"/>
<circle cx="470.7" cy="1454.2" r="3.2"/>
<circle cx="468.5" cy="1434.7" r="3.2"/>
<circle cx="444.5" cy="1455.3" r="3.2"/>
<circle cx="450.8" cy="1451.3" r="3.2"/>
<circle cx="448.2" cy="1454.8" r="3.2"/>
<circle cx="446.4" cy="1455.4" r="3.2"/>
<circle cx="444.5" cy="1452.3" r="3.2"/>
<circle cx="450.2" cy="1455.3" r="3.2"/>
<circle cx="449.4" cy="1445.6" r="3.2"/>
<circle cx="462.9" cy="1437.4" r="3.2"/>
<circle cx="444.5" cy="1452.0" r="3.2"/>
<circle cx="447.8" cy="1455.4" r="3.2"/>
<circle cx="453.1" cy="1443.0" r="3.2"/>
<circle cx="453.5" cy="1448.4" r="3.2"/>
<circle cx="446.2" cy="1452.8" r="3.2"/>
<circle cx="444.5" cy="1455.4" r="3.2"/>
<circle cx="444.5" cy="1453.0" r="3.2"/>
<circle cx="444.5" cy="1455.4" r="3.2"/>
<circle cx="445.8" cy="1451.5" r="3.2"/>
<circle cx="448.0" cy="1455.4" r="3.2"/>
<circle cx="455.9" cy="1443.2" r="3.2"/>
<circle cx="453.1" cy="1448.1" r="3.2"/>
<circle cx="467.8" cy="1441.3" r="3.2"/>
<circle cx="444.5" cy="1455.4" r="3.2"/>
<circle cx="456.1" cy="1434.9" r="3.2"/>
<circle cx="461.5" cy="1440.3" r="3.2"/>
<circle cx="466.4" cy="1431.1" r="3.2"/>
<circle cx="464.6" cy="1435.2" r="3.2"/>
<circle cx="444.5" cy="1455.4" r="3.2"/>
<circle cx="465.6" cy="1435.4" r="3.2"/>
<circle cx="444.5" cy="1455.4" r="3.2"/>
<circle cx="450.8" cy="1448.0" r="3.2"/>
<circle cx="449.5" cy="1451.0" r="3.2"/>
<circle cx="449.4" cy="1451.2" r="3.2"/>
<circle cx="461.2" cy="1435.2" r="3.2"/>
<circle cx="456.2" cy="1442.2" r="3.2"/>
<circle cx="444.5" cy="1455.4" r="3.2"/>
<circle cx="454.3" cy="1441.5" r="3.2"/>
<circle cx="462.1" cy="1442.7" r="3.2"/>
<circle cx="444.5" cy="1452.5" r="3.2"/>
<circle cx="445.4" cy="1455.1" r="3.2"/>
<circle cx="448.8" cy="1448.8" r="3.2"/>
<circle cx="447.9" cy="1449.8" r="3.2"/>
<circle cx="457.8" cy="1444.5" r="3.2"/>
<circle cx="461.0" cy="1446.0" r="3.2"/>
<circle cx="444.5" cy="1454.5" r="3.2"/>
<circle cx="459.1" cy="1447.9" r="3.2"/>
<circle cx="474.2" cy="1445.4" r="3.2"/>
<circle cx="444.5" cy="1455.3" r="3.2"/>
<circle cx="457.3" cy="1445.2" r="3.2"/>
<circle cx="453.8" cy="1448.4" r="3.2"/>
<circle cx="444.5" cy="1455.4" r="3.2"/>
<circle cx="457.4" cy="1449.4" r="3.2"/>
<circle cx="473.9" cy="1445.4" r="3.2"/>
<circle cx="465.5" cy="1448.1" r="3.2"/>
<circle cx="444.5" cy="1454.8" r="3.2"/>
<circle cx="468.9" cy="1443.9" r="3.2"/>
<circle cx="468.0" cy="1445.3" r="3.2"/>
<circle cx="457.7" cy="1445.8" r="3.2"/>
<circle cx="473.8" cy="1440.6" r="3.2"/>
<circle cx="460.5" cy="1448.1" r="3.2"/>
<circle cx="451.1" cy="1454.3" r="3.2"/>
<circle cx="446.7" cy="1447.5" r="3.2"/>
<circle cx="444.5" cy="1455.4" r="3.2"/>
<circle cx="458.7" cy="1447.7" r="3.2"/>
<circle cx="454.7" cy="1454.5" r="3.2"/>
<circle cx="452.2" cy="1453.4" r="3.2"/>
<circle cx="444.5" cy="1455.3" r="3.2"/>
<circle cx="446.2" cy="1455.4" r="3.2"/>
<circle cx="450.0" cy="1452.7" r="3.2"/>
<circle cx="449.7" cy="1455.4" r="3.2"/>
<circle cx="444.5" cy="1455.4" r="3.2"/>
<circle cx="447.0" cy="1455.4" r="3.2"/>
<circle cx="459.6" cy="1446.2" r="3.2"/>
<circle cx="446.6" cy="1455.4" r="3.2"/>
<circle cx="445.1" cy="1455.4" r="3.2"/>
<circle cx="468.8" cy="1441.1" r="3.2"/>
<circle cx="444.5" cy="1455.4" r="3.2"/>
<circle cx="454.3" cy="1451.4" r="3.2"/>
<circle cx="467.3" cy="1447.0" r="3.2"/>
<circle cx="458.7" cy="1451.8" r="3.2"/>
<g stroke-width="1.6">
<circle cx="446.8" cy="1455.1" r="2.7"/>
<circle cx="445.8" cy="1455.4" r="2.7"/>
<circle cx="445.9" cy="1455.4" r="2.7"/>
<circle cx="451.8" cy="1451.1" r="2.7"/>
<circle cx="451.3" cy="1452.5" r="2.7"/>
<circle cx="447.4" cy="1452.8" r="2.7"/>
<circle cx="444.5" cy="1455.4" r="2.7"/>
<circle cx="448.1" cy="1453.1" r="2.7"/>
<circle cx="453.5" cy="1448.3" r="2.7"/>
<circle cx="448.3" cy="1455.4" r="2.7"/>
<circle cx="448.3" cy="1455.3" r="2.7"/>
<circle cx="444.5" cy="1455.4" r="2.7"/>
<circle cx="445.1" cy="1453.8" r="2.7"/>
<circle cx="446.8" cy="1455.0" r="2.7"/>
<circle cx="444.5" cy="1455.4" r="2.7"/>
<circle cx="444.5" cy="1455.2" r="2.7"/>
<circle cx="444.5" cy="1455.4" r="2.7"/>
<circle cx="445.1" cy="1454.4" r="2.7"/>
<circle cx="445.4" cy="1453.7" r="2.7"/>
<circle cx="445.3" cy="1453.1" r="2.7"/>
<circle cx="444.5" cy="1455.4" r="2.7"/>
<circle cx="444.5" cy="1454.1" r="2.7"/>
<circle cx="449.0" cy="1454.2" r="2.7"/>
<circle cx="445.2" cy="1454.1" r="2.7"/>
<circle cx="444.7" cy="1453.1" r="2.7"/>
<circle cx="450.8" cy="1451.6" r="2.7"/>
<circle cx="444.5" cy="1455.4" r="2.7"/>
<circle cx="444.5" cy="1454.7" r="2.7"/>
<circle cx="446.8" cy="1455.4" r="2.7"/>
<circle cx="444.5" cy="1455.4" r="2.7"/>
<circle cx="446.1" cy="1454.3" r="2.7"/>
<circle cx="446.8" cy="1451.7" r="2.7"/>
<circle cx="452.6" cy="1446.9" r="2.7"/>
<circle cx="450.1" cy="1449.2" r="2.7"/>
<circle cx="444.5" cy="1455.4" r="2.7"/>
<circle cx="451.5" cy="1454.3" r="2.7"/>
<circle cx="454.3" cy="1450.8" r="2.7"/>
<circle cx="451.7" cy="1448.4" r="2.7"/>
<circle cx="447.5" cy="1454.1" r="2.7"/>
<circle cx="449.0" cy="1454.6" r="2.7"/>
</g>
<ellipse cx="446.5" cy="1454.2" rx="4.6" ry="3.0" transform="rotate(-40 446.5 1454.2)" fill="#111" stroke="none"/>
<circle cx="444.1" cy="1456.0" r="3.2"/>
</g>
<line x1="444.0" y1="1454.7" x2="619.4" y2="1336.4" stroke="#b81c24" stroke-width="1.3" stroke-dasharray="1.1 1.3"/>
<text transform="translate(423.5,1463.4) scale(1,1.1)" font-size="16.68" text-anchor="end">-30</text>
<text transform="translate(439.5,1483.4) scale(1,1.1)" font-size="16.68" text-anchor="middle">-30</text>
<text transform="translate(423.5,1407.4) scale(1,1.1)" font-size="16.68" text-anchor="end">700</text>
<text transform="translate(496.2,1483.4) scale(1,1.1)" font-size="16.68" text-anchor="middle">700</text>
<text transform="translate(423.5,1351.4) scale(1,1.1)" font-size="16.68" text-anchor="end">1,430</text>
<text transform="translate(553.0,1483.4) scale(1,1.1)" font-size="16.68" text-anchor="middle">1,430</text>
<text transform="translate(423.5,1295.5) scale(1,1.1)" font-size="16.68" text-anchor="end">2,160</text>
<text transform="translate(609.8,1483.4) scale(1,1.1)" font-size="16.68" text-anchor="middle">2,160</text>
<text transform="translate(423.5,1239.5) scale(1,1.1)" font-size="16.68" text-anchor="end">2,890</text>
<text transform="translate(666.5,1483.4) scale(1,1.1)" font-size="16.68" text-anchor="middle">2,890</text>
<text x="476.0" y="1509.0" font-size="19.26">Daily measured (m<tspan font-size="12.71" dy="-5.78">3</tspan><tspan dy="5.78">/s)</tspan></text>
<text transform="translate(369.6,1441.2) rotate(-90)" font-size="19.26">Daily predicted (m<tspan font-size="12.71" dy="-5.78">3</tspan><tspan dy="5.78">/s)</tspan></text>
<text x="357.8" y="1499.9" font-size="19">(j)</text>
<text transform="translate(600.1,1363.2) scale(0.929,1)" font-size="13.4" style="fill:#b3141c;stroke:#b3141c;stroke-width:0.12">R<tspan font-size="10.5">²</tspan> = 0.7784</text>
</svg></body></html>
